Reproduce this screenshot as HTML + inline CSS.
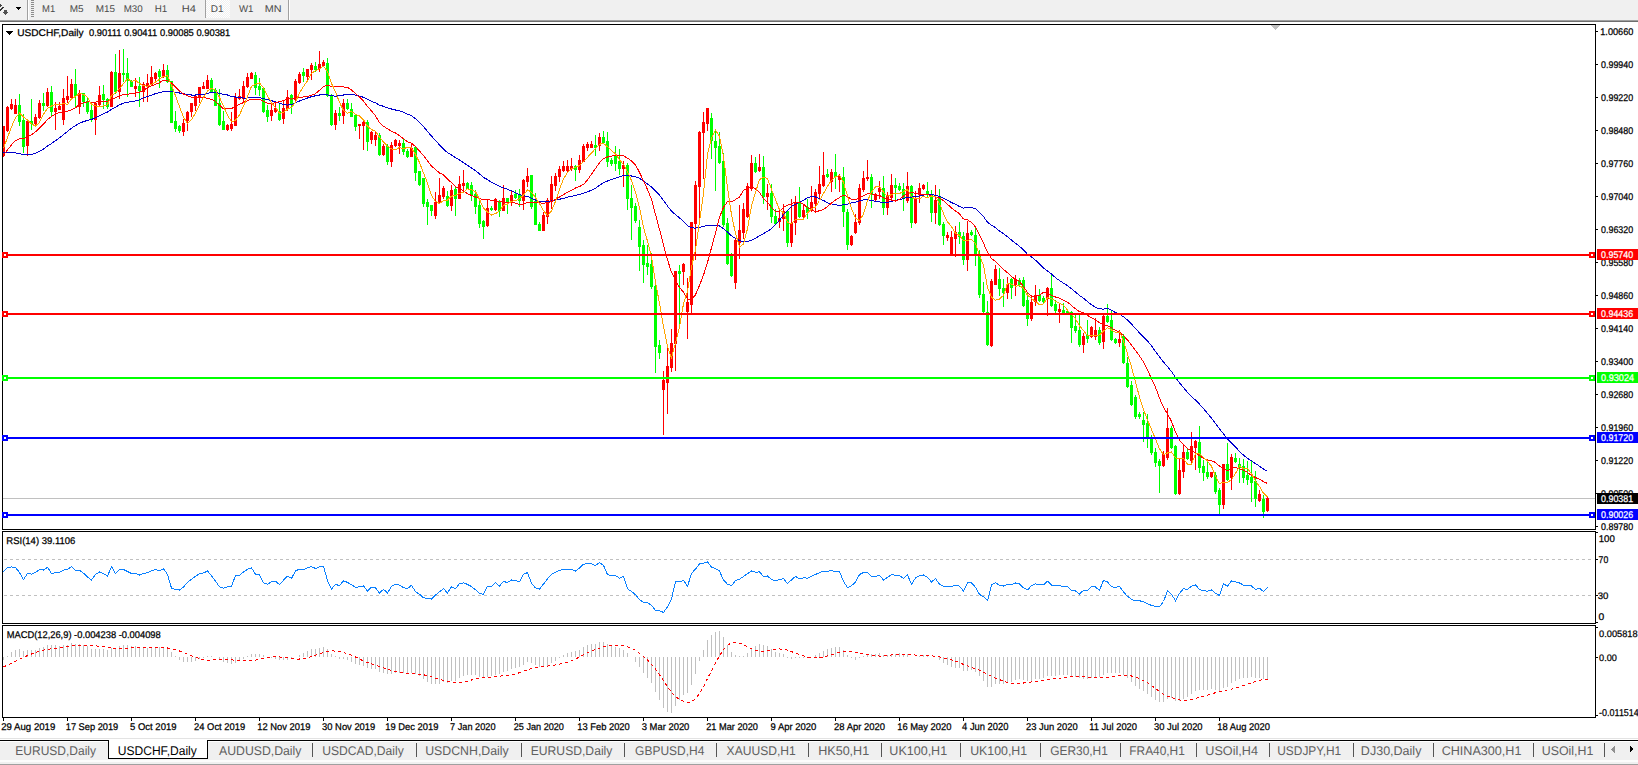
<!DOCTYPE html>
<html><head><meta charset="utf-8"><title>USDCHF,Daily</title>
<style>
html,body{margin:0;padding:0;width:1638px;height:765px;overflow:hidden;background:#fff}
svg{position:absolute;left:0;top:0;display:block}
text{font-family:"Liberation Sans",sans-serif;text-rendering:geometricPrecision}
</style></head><body>
<svg width="1638" height="765" viewBox="0 0 1638 765" shape-rendering="crispEdges">
<rect x="0" y="0" width="1638" height="20" fill="#f0f0f0"/>
<rect x="0" y="20" width="1638" height="1" fill="#a0a0a0"/>
<rect x="0" y="21" width="1638" height="1" fill="#6e6e6e"/>
<path d="M0 4 L2 5 L0 7 Z" fill="#444"/>
<path d="M0 9.5 L3 6.3 L4 7.3 L0 11 Z" fill="#333"/>
<path d="M2 11.5 L4.3 11.5 L4.3 10 L6.7 10 L6.7 11.5 L9 11.5 L5.5 15 Z" fill="#505050"/>
<path d="M15 7 L21 7 L18 10 Z" fill="#000"/>
<rect x="27" y="0" width="1" height="20" fill="#a0a0a0"/>
<rect x="28" y="0" width="1" height="20" fill="#ffffff"/>
<rect x="31" y="0" width="3" height="1" fill="#8c8c8c"/>
<rect x="31" y="2" width="3" height="1" fill="#8c8c8c"/>
<rect x="31" y="4" width="3" height="1" fill="#8c8c8c"/>
<rect x="31" y="6" width="3" height="1" fill="#8c8c8c"/>
<rect x="31" y="8" width="3" height="1" fill="#8c8c8c"/>
<rect x="31" y="10" width="3" height="1" fill="#8c8c8c"/>
<rect x="31" y="12" width="3" height="1" fill="#8c8c8c"/>
<rect x="31" y="14" width="3" height="1" fill="#8c8c8c"/>
<rect x="31" y="16" width="3" height="1" fill="#8c8c8c"/>
<defs><pattern id="dith" width="2" height="2" patternUnits="userSpaceOnUse"><rect width="2" height="2" fill="#f0f0f0"/><rect width="1" height="1" fill="#ffffff"/><rect x="1" y="1" width="1" height="1" fill="#ffffff"/></pattern></defs>
<rect x="206" y="0" width="24" height="18" fill="url(#dith)"/>
<rect x="205" y="0" width="1" height="18" fill="#a0a0a0"/>
<rect x="288" y="0" width="1" height="20" fill="#a0a0a0"/>
<rect x="289" y="0" width="1" height="20" fill="#ffffff"/>
<rect x="3" y="498" width="1592" height="1" fill="#c0c0c0"/>
<rect x="3" y="126" width="1" height="31" fill="#ff0000"/>
<rect x="2" y="126" width="3" height="30" fill="#ff0000"/>
<rect x="7" y="106" width="1" height="26" fill="#ff0000"/>
<rect x="6" y="107" width="3" height="24" fill="#ff0000"/>
<rect x="11" y="99" width="1" height="11" fill="#ff0000"/>
<rect x="10" y="104" width="3" height="5" fill="#ff0000"/>
<rect x="15" y="99" width="1" height="15" fill="#ff0000"/>
<rect x="14" y="105" width="3" height="9" fill="#ff0000"/>
<rect x="19" y="94" width="1" height="32" fill="#00ff00"/>
<rect x="18" y="105" width="3" height="17" fill="#00ff00"/>
<rect x="23" y="114" width="1" height="39" fill="#00ff00"/>
<rect x="22" y="120" width="3" height="27" fill="#00ff00"/>
<rect x="27" y="121" width="1" height="35" fill="#ff0000"/>
<rect x="26" y="121" width="3" height="25" fill="#ff0000"/>
<rect x="31" y="99" width="1" height="31" fill="#00ff00"/>
<rect x="30" y="121" width="3" height="3" fill="#00ff00"/>
<rect x="35" y="114" width="1" height="11" fill="#ff0000"/>
<rect x="34" y="117" width="3" height="7" fill="#ff0000"/>
<rect x="39" y="100" width="1" height="19" fill="#ff0000"/>
<rect x="38" y="103" width="3" height="15" fill="#ff0000"/>
<rect x="43" y="93" width="1" height="18" fill="#00ff00"/>
<rect x="42" y="103" width="3" height="3" fill="#00ff00"/>
<rect x="47" y="88" width="1" height="19" fill="#ff0000"/>
<rect x="46" y="92" width="3" height="14" fill="#ff0000"/>
<rect x="51" y="86" width="1" height="31" fill="#00ff00"/>
<rect x="50" y="92" width="3" height="20" fill="#00ff00"/>
<rect x="55" y="102" width="1" height="28" fill="#ff0000"/>
<rect x="54" y="108" width="3" height="4" fill="#ff0000"/>
<rect x="59" y="102" width="1" height="8" fill="#ff0000"/>
<rect x="58" y="106" width="3" height="4" fill="#ff0000"/>
<rect x="63" y="89" width="1" height="36" fill="#ff0000"/>
<rect x="62" y="98" width="3" height="22" fill="#ff0000"/>
<rect x="67" y="76" width="1" height="27" fill="#ff0000"/>
<rect x="66" y="96" width="3" height="4" fill="#ff0000"/>
<rect x="71" y="79" width="1" height="20" fill="#ff0000"/>
<rect x="70" y="84" width="3" height="14" fill="#ff0000"/>
<rect x="75" y="69" width="1" height="38" fill="#00ff00"/>
<rect x="74" y="84" width="3" height="12" fill="#00ff00"/>
<rect x="79" y="90" width="1" height="24" fill="#ff0000"/>
<rect x="78" y="93" width="3" height="14" fill="#ff0000"/>
<rect x="83" y="93" width="1" height="14" fill="#00ff00"/>
<rect x="82" y="93" width="3" height="9" fill="#00ff00"/>
<rect x="87" y="97" width="1" height="17" fill="#00ff00"/>
<rect x="86" y="101" width="3" height="11" fill="#00ff00"/>
<rect x="91" y="104" width="1" height="18" fill="#00ff00"/>
<rect x="90" y="110" width="3" height="10" fill="#00ff00"/>
<rect x="95" y="103" width="1" height="32" fill="#ff0000"/>
<rect x="94" y="103" width="3" height="17" fill="#ff0000"/>
<rect x="99" y="86" width="1" height="20" fill="#ff0000"/>
<rect x="98" y="95" width="3" height="10" fill="#ff0000"/>
<rect x="103" y="85" width="1" height="24" fill="#00ff00"/>
<rect x="102" y="94" width="3" height="6" fill="#00ff00"/>
<rect x="107" y="98" width="1" height="11" fill="#00ff00"/>
<rect x="106" y="99" width="3" height="8" fill="#00ff00"/>
<rect x="111" y="71" width="1" height="36" fill="#ff0000"/>
<rect x="110" y="72" width="3" height="35" fill="#ff0000"/>
<rect x="115" y="54" width="1" height="40" fill="#00ff00"/>
<rect x="114" y="72" width="3" height="20" fill="#00ff00"/>
<rect x="119" y="50" width="1" height="49" fill="#ff0000"/>
<rect x="118" y="73" width="3" height="19" fill="#ff0000"/>
<rect x="123" y="49" width="1" height="33" fill="#00ff00"/>
<rect x="122" y="73" width="3" height="2" fill="#00ff00"/>
<rect x="127" y="58" width="1" height="39" fill="#00ff00"/>
<rect x="126" y="73" width="3" height="8" fill="#00ff00"/>
<rect x="131" y="80" width="1" height="7" fill="#00ff00"/>
<rect x="130" y="81" width="3" height="6" fill="#00ff00"/>
<rect x="135" y="78" width="1" height="19" fill="#ff0000"/>
<rect x="134" y="86" width="3" height="3" fill="#ff0000"/>
<rect x="139" y="77" width="1" height="30" fill="#00ff00"/>
<rect x="138" y="86" width="3" height="5" fill="#00ff00"/>
<rect x="143" y="82" width="1" height="20" fill="#ff0000"/>
<rect x="142" y="84" width="3" height="8" fill="#ff0000"/>
<rect x="147" y="74" width="1" height="28" fill="#ff0000"/>
<rect x="146" y="83" width="3" height="4" fill="#ff0000"/>
<rect x="151" y="66" width="1" height="20" fill="#ff0000"/>
<rect x="150" y="77" width="3" height="8" fill="#ff0000"/>
<rect x="155" y="72" width="1" height="10" fill="#ff0000"/>
<rect x="154" y="73" width="3" height="6" fill="#ff0000"/>
<rect x="159" y="69" width="1" height="19" fill="#00ff00"/>
<rect x="158" y="71" width="3" height="6" fill="#00ff00"/>
<rect x="163" y="64" width="1" height="14" fill="#ff0000"/>
<rect x="162" y="70" width="3" height="7" fill="#ff0000"/>
<rect x="167" y="65" width="1" height="18" fill="#00ff00"/>
<rect x="166" y="70" width="3" height="12" fill="#00ff00"/>
<rect x="171" y="81" width="1" height="42" fill="#00ff00"/>
<rect x="170" y="81" width="3" height="42" fill="#00ff00"/>
<rect x="175" y="111" width="1" height="21" fill="#00ff00"/>
<rect x="174" y="121" width="3" height="8" fill="#00ff00"/>
<rect x="179" y="125" width="1" height="8" fill="#00ff00"/>
<rect x="178" y="126" width="3" height="5" fill="#00ff00"/>
<rect x="183" y="119" width="1" height="17" fill="#ff0000"/>
<rect x="182" y="123" width="3" height="9" fill="#ff0000"/>
<rect x="187" y="111" width="1" height="20" fill="#ff0000"/>
<rect x="186" y="112" width="3" height="9" fill="#ff0000"/>
<rect x="191" y="103" width="1" height="14" fill="#ff0000"/>
<rect x="190" y="103" width="3" height="9" fill="#ff0000"/>
<rect x="195" y="95" width="1" height="16" fill="#ff0000"/>
<rect x="194" y="96" width="3" height="10" fill="#ff0000"/>
<rect x="199" y="87" width="1" height="16" fill="#ff0000"/>
<rect x="198" y="87" width="3" height="11" fill="#ff0000"/>
<rect x="203" y="82" width="1" height="7" fill="#ff0000"/>
<rect x="202" y="86" width="3" height="3" fill="#ff0000"/>
<rect x="207" y="75" width="1" height="14" fill="#ff0000"/>
<rect x="206" y="80" width="3" height="9" fill="#ff0000"/>
<rect x="211" y="78" width="1" height="14" fill="#00ff00"/>
<rect x="210" y="80" width="3" height="12" fill="#00ff00"/>
<rect x="215" y="88" width="1" height="18" fill="#00ff00"/>
<rect x="214" y="90" width="3" height="16" fill="#00ff00"/>
<rect x="219" y="89" width="1" height="37" fill="#00ff00"/>
<rect x="218" y="103" width="3" height="22" fill="#00ff00"/>
<rect x="223" y="111" width="1" height="19" fill="#00ff00"/>
<rect x="222" y="121" width="3" height="9" fill="#00ff00"/>
<rect x="227" y="124" width="1" height="7" fill="#ff0000"/>
<rect x="226" y="125" width="3" height="5" fill="#ff0000"/>
<rect x="231" y="112" width="1" height="19" fill="#ff0000"/>
<rect x="230" y="124" width="3" height="5" fill="#ff0000"/>
<rect x="235" y="93" width="1" height="33" fill="#ff0000"/>
<rect x="234" y="97" width="3" height="29" fill="#ff0000"/>
<rect x="239" y="89" width="1" height="11" fill="#ff0000"/>
<rect x="238" y="96" width="3" height="3" fill="#ff0000"/>
<rect x="243" y="81" width="1" height="21" fill="#ff0000"/>
<rect x="242" y="86" width="3" height="13" fill="#ff0000"/>
<rect x="247" y="73" width="1" height="15" fill="#ff0000"/>
<rect x="246" y="77" width="3" height="10" fill="#ff0000"/>
<rect x="251" y="72" width="1" height="7" fill="#ff0000"/>
<rect x="250" y="73" width="3" height="6" fill="#ff0000"/>
<rect x="255" y="72" width="1" height="23" fill="#00ff00"/>
<rect x="254" y="75" width="3" height="13" fill="#00ff00"/>
<rect x="259" y="78" width="1" height="18" fill="#00ff00"/>
<rect x="258" y="86" width="3" height="4" fill="#00ff00"/>
<rect x="263" y="87" width="1" height="26" fill="#00ff00"/>
<rect x="262" y="88" width="3" height="24" fill="#00ff00"/>
<rect x="267" y="105" width="1" height="17" fill="#00ff00"/>
<rect x="266" y="110" width="3" height="7" fill="#00ff00"/>
<rect x="271" y="103" width="1" height="18" fill="#ff0000"/>
<rect x="270" y="110" width="3" height="6" fill="#ff0000"/>
<rect x="275" y="103" width="1" height="10" fill="#ff0000"/>
<rect x="274" y="108" width="3" height="4" fill="#ff0000"/>
<rect x="279" y="103" width="1" height="18" fill="#00ff00"/>
<rect x="278" y="111" width="3" height="9" fill="#00ff00"/>
<rect x="283" y="100" width="1" height="24" fill="#ff0000"/>
<rect x="282" y="108" width="3" height="11" fill="#ff0000"/>
<rect x="287" y="90" width="1" height="21" fill="#ff0000"/>
<rect x="286" y="97" width="3" height="12" fill="#ff0000"/>
<rect x="291" y="94" width="1" height="20" fill="#00ff00"/>
<rect x="290" y="95" width="3" height="9" fill="#00ff00"/>
<rect x="295" y="79" width="1" height="22" fill="#ff0000"/>
<rect x="294" y="81" width="3" height="19" fill="#ff0000"/>
<rect x="299" y="72" width="1" height="12" fill="#ff0000"/>
<rect x="298" y="74" width="3" height="9" fill="#ff0000"/>
<rect x="303" y="68" width="1" height="14" fill="#00ff00"/>
<rect x="302" y="72" width="3" height="4" fill="#00ff00"/>
<rect x="307" y="69" width="1" height="12" fill="#ff0000"/>
<rect x="306" y="69" width="3" height="8" fill="#ff0000"/>
<rect x="311" y="63" width="1" height="17" fill="#ff0000"/>
<rect x="310" y="65" width="3" height="5" fill="#ff0000"/>
<rect x="315" y="62" width="1" height="10" fill="#00ff00"/>
<rect x="314" y="66" width="3" height="4" fill="#00ff00"/>
<rect x="319" y="51" width="1" height="21" fill="#ff0000"/>
<rect x="318" y="64" width="3" height="5" fill="#ff0000"/>
<rect x="323" y="60" width="1" height="7" fill="#ff0000"/>
<rect x="322" y="62" width="3" height="4" fill="#ff0000"/>
<rect x="327" y="58" width="1" height="39" fill="#00ff00"/>
<rect x="326" y="63" width="3" height="33" fill="#00ff00"/>
<rect x="331" y="94" width="1" height="32" fill="#00ff00"/>
<rect x="330" y="95" width="3" height="30" fill="#00ff00"/>
<rect x="335" y="110" width="1" height="20" fill="#ff0000"/>
<rect x="334" y="113" width="3" height="12" fill="#ff0000"/>
<rect x="339" y="107" width="1" height="14" fill="#00ff00"/>
<rect x="338" y="113" width="3" height="3" fill="#00ff00"/>
<rect x="343" y="99" width="1" height="25" fill="#ff0000"/>
<rect x="342" y="103" width="3" height="13" fill="#ff0000"/>
<rect x="347" y="99" width="1" height="11" fill="#00ff00"/>
<rect x="346" y="103" width="3" height="6" fill="#00ff00"/>
<rect x="351" y="103" width="1" height="14" fill="#00ff00"/>
<rect x="350" y="109" width="3" height="8" fill="#00ff00"/>
<rect x="355" y="114" width="1" height="17" fill="#00ff00"/>
<rect x="354" y="115" width="3" height="12" fill="#00ff00"/>
<rect x="359" y="124" width="1" height="15" fill="#ff0000"/>
<rect x="358" y="124" width="3" height="2" fill="#ff0000"/>
<rect x="363" y="120" width="1" height="30" fill="#ff0000"/>
<rect x="362" y="122" width="3" height="4" fill="#ff0000"/>
<rect x="367" y="120" width="1" height="31" fill="#00ff00"/>
<rect x="366" y="122" width="3" height="20" fill="#00ff00"/>
<rect x="371" y="131" width="1" height="13" fill="#ff0000"/>
<rect x="370" y="132" width="3" height="8" fill="#ff0000"/>
<rect x="375" y="132" width="1" height="14" fill="#ff0000"/>
<rect x="374" y="135" width="3" height="5" fill="#ff0000"/>
<rect x="379" y="133" width="1" height="23" fill="#00ff00"/>
<rect x="378" y="135" width="3" height="20" fill="#00ff00"/>
<rect x="383" y="144" width="1" height="12" fill="#ff0000"/>
<rect x="382" y="146" width="3" height="9" fill="#ff0000"/>
<rect x="387" y="144" width="1" height="21" fill="#00ff00"/>
<rect x="386" y="146" width="3" height="16" fill="#00ff00"/>
<rect x="391" y="142" width="1" height="25" fill="#ff0000"/>
<rect x="390" y="145" width="3" height="17" fill="#ff0000"/>
<rect x="395" y="139" width="1" height="8" fill="#ff0000"/>
<rect x="394" y="140" width="3" height="6" fill="#ff0000"/>
<rect x="399" y="140" width="1" height="14" fill="#ff0000"/>
<rect x="398" y="143" width="3" height="3" fill="#ff0000"/>
<rect x="403" y="139" width="1" height="16" fill="#00ff00"/>
<rect x="402" y="143" width="3" height="9" fill="#00ff00"/>
<rect x="407" y="149" width="1" height="9" fill="#00ff00"/>
<rect x="406" y="151" width="3" height="6" fill="#00ff00"/>
<rect x="411" y="144" width="1" height="13" fill="#ff0000"/>
<rect x="410" y="148" width="3" height="9" fill="#ff0000"/>
<rect x="415" y="146" width="1" height="35" fill="#00ff00"/>
<rect x="414" y="147" width="3" height="26" fill="#00ff00"/>
<rect x="419" y="171" width="1" height="15" fill="#00ff00"/>
<rect x="418" y="171" width="3" height="14" fill="#00ff00"/>
<rect x="423" y="178" width="1" height="29" fill="#00ff00"/>
<rect x="422" y="178" width="3" height="26" fill="#00ff00"/>
<rect x="427" y="199" width="1" height="26" fill="#00ff00"/>
<rect x="426" y="202" width="3" height="5" fill="#00ff00"/>
<rect x="431" y="205" width="1" height="11" fill="#00ff00"/>
<rect x="430" y="205" width="3" height="6" fill="#00ff00"/>
<rect x="435" y="192" width="1" height="27" fill="#ff0000"/>
<rect x="434" y="202" width="3" height="14" fill="#ff0000"/>
<rect x="439" y="178" width="1" height="26" fill="#ff0000"/>
<rect x="438" y="195" width="3" height="8" fill="#ff0000"/>
<rect x="443" y="186" width="1" height="13" fill="#ff0000"/>
<rect x="442" y="188" width="3" height="9" fill="#ff0000"/>
<rect x="447" y="191" width="1" height="16" fill="#00ff00"/>
<rect x="446" y="196" width="3" height="10" fill="#00ff00"/>
<rect x="451" y="185" width="1" height="26" fill="#ff0000"/>
<rect x="450" y="190" width="3" height="16" fill="#ff0000"/>
<rect x="455" y="186" width="1" height="30" fill="#00ff00"/>
<rect x="454" y="189" width="3" height="10" fill="#00ff00"/>
<rect x="459" y="176" width="1" height="23" fill="#ff0000"/>
<rect x="458" y="184" width="3" height="15" fill="#ff0000"/>
<rect x="463" y="170" width="1" height="22" fill="#ff0000"/>
<rect x="462" y="183" width="3" height="3" fill="#ff0000"/>
<rect x="467" y="182" width="1" height="7" fill="#00ff00"/>
<rect x="466" y="183" width="3" height="6" fill="#00ff00"/>
<rect x="471" y="182" width="1" height="19" fill="#00ff00"/>
<rect x="470" y="185" width="3" height="11" fill="#00ff00"/>
<rect x="475" y="190" width="1" height="24" fill="#00ff00"/>
<rect x="474" y="194" width="3" height="13" fill="#00ff00"/>
<rect x="479" y="200" width="1" height="28" fill="#00ff00"/>
<rect x="478" y="205" width="3" height="19" fill="#00ff00"/>
<rect x="483" y="220" width="1" height="19" fill="#00ff00"/>
<rect x="482" y="221" width="3" height="6" fill="#00ff00"/>
<rect x="487" y="200" width="1" height="27" fill="#ff0000"/>
<rect x="486" y="208" width="3" height="18" fill="#ff0000"/>
<rect x="491" y="206" width="1" height="5" fill="#00ff00"/>
<rect x="490" y="208" width="3" height="2" fill="#00ff00"/>
<rect x="495" y="198" width="1" height="13" fill="#ff0000"/>
<rect x="494" y="199" width="3" height="11" fill="#ff0000"/>
<rect x="499" y="200" width="1" height="17" fill="#00ff00"/>
<rect x="498" y="202" width="3" height="9" fill="#00ff00"/>
<rect x="503" y="185" width="1" height="26" fill="#ff0000"/>
<rect x="502" y="198" width="3" height="13" fill="#ff0000"/>
<rect x="507" y="198" width="1" height="16" fill="#00ff00"/>
<rect x="506" y="198" width="3" height="5" fill="#00ff00"/>
<rect x="511" y="190" width="1" height="16" fill="#ff0000"/>
<rect x="510" y="195" width="3" height="7" fill="#ff0000"/>
<rect x="515" y="190" width="1" height="9" fill="#00ff00"/>
<rect x="514" y="194" width="3" height="4" fill="#00ff00"/>
<rect x="519" y="189" width="1" height="18" fill="#00ff00"/>
<rect x="518" y="194" width="3" height="7" fill="#00ff00"/>
<rect x="523" y="179" width="1" height="31" fill="#ff0000"/>
<rect x="522" y="180" width="3" height="21" fill="#ff0000"/>
<rect x="527" y="168" width="1" height="19" fill="#ff0000"/>
<rect x="526" y="176" width="3" height="6" fill="#ff0000"/>
<rect x="531" y="175" width="1" height="34" fill="#00ff00"/>
<rect x="530" y="175" width="3" height="32" fill="#00ff00"/>
<rect x="535" y="193" width="1" height="32" fill="#00ff00"/>
<rect x="534" y="201" width="3" height="24" fill="#00ff00"/>
<rect x="539" y="222" width="1" height="9" fill="#00ff00"/>
<rect x="538" y="224" width="3" height="7" fill="#00ff00"/>
<rect x="543" y="212" width="1" height="19" fill="#ff0000"/>
<rect x="542" y="215" width="3" height="16" fill="#ff0000"/>
<rect x="547" y="198" width="1" height="26" fill="#ff0000"/>
<rect x="546" y="200" width="3" height="17" fill="#ff0000"/>
<rect x="551" y="176" width="1" height="33" fill="#ff0000"/>
<rect x="550" y="184" width="3" height="17" fill="#ff0000"/>
<rect x="555" y="173" width="1" height="18" fill="#ff0000"/>
<rect x="554" y="176" width="3" height="10" fill="#ff0000"/>
<rect x="559" y="166" width="1" height="16" fill="#ff0000"/>
<rect x="558" y="169" width="3" height="8" fill="#ff0000"/>
<rect x="563" y="161" width="1" height="11" fill="#ff0000"/>
<rect x="562" y="166" width="3" height="5" fill="#ff0000"/>
<rect x="567" y="160" width="1" height="12" fill="#ff0000"/>
<rect x="566" y="166" width="3" height="5" fill="#ff0000"/>
<rect x="571" y="158" width="1" height="13" fill="#ff0000"/>
<rect x="570" y="166" width="3" height="3" fill="#ff0000"/>
<rect x="575" y="165" width="1" height="16" fill="#00ff00"/>
<rect x="574" y="166" width="3" height="4" fill="#00ff00"/>
<rect x="579" y="155" width="1" height="18" fill="#ff0000"/>
<rect x="578" y="160" width="3" height="10" fill="#ff0000"/>
<rect x="583" y="144" width="1" height="18" fill="#ff0000"/>
<rect x="582" y="146" width="3" height="16" fill="#ff0000"/>
<rect x="587" y="142" width="1" height="9" fill="#ff0000"/>
<rect x="586" y="144" width="3" height="4" fill="#ff0000"/>
<rect x="591" y="141" width="1" height="7" fill="#ff0000"/>
<rect x="590" y="144" width="3" height="4" fill="#ff0000"/>
<rect x="595" y="135" width="1" height="21" fill="#00ff00"/>
<rect x="594" y="145" width="3" height="3" fill="#00ff00"/>
<rect x="599" y="133" width="1" height="18" fill="#ff0000"/>
<rect x="598" y="137" width="3" height="9" fill="#ff0000"/>
<rect x="603" y="131" width="1" height="13" fill="#00ff00"/>
<rect x="602" y="137" width="3" height="6" fill="#00ff00"/>
<rect x="607" y="132" width="1" height="35" fill="#00ff00"/>
<rect x="606" y="141" width="3" height="21" fill="#00ff00"/>
<rect x="611" y="158" width="1" height="8" fill="#00ff00"/>
<rect x="610" y="160" width="3" height="4" fill="#00ff00"/>
<rect x="615" y="146" width="1" height="25" fill="#00ff00"/>
<rect x="614" y="155" width="3" height="9" fill="#00ff00"/>
<rect x="619" y="149" width="1" height="26" fill="#00ff00"/>
<rect x="618" y="161" width="3" height="8" fill="#00ff00"/>
<rect x="623" y="161" width="1" height="26" fill="#ff0000"/>
<rect x="622" y="165" width="3" height="4" fill="#ff0000"/>
<rect x="627" y="163" width="1" height="47" fill="#00ff00"/>
<rect x="626" y="165" width="3" height="34" fill="#00ff00"/>
<rect x="631" y="185" width="1" height="55" fill="#00ff00"/>
<rect x="630" y="198" width="3" height="10" fill="#00ff00"/>
<rect x="635" y="203" width="1" height="20" fill="#00ff00"/>
<rect x="634" y="206" width="3" height="15" fill="#00ff00"/>
<rect x="639" y="220" width="1" height="51" fill="#00ff00"/>
<rect x="638" y="227" width="3" height="20" fill="#00ff00"/>
<rect x="643" y="240" width="1" height="43" fill="#00ff00"/>
<rect x="642" y="245" width="3" height="20" fill="#00ff00"/>
<rect x="647" y="245" width="1" height="30" fill="#00ff00"/>
<rect x="646" y="263" width="3" height="4" fill="#00ff00"/>
<rect x="651" y="253" width="1" height="36" fill="#00ff00"/>
<rect x="650" y="264" width="3" height="23" fill="#00ff00"/>
<rect x="655" y="284" width="1" height="89" fill="#00ff00"/>
<rect x="654" y="286" width="3" height="61" fill="#00ff00"/>
<rect x="659" y="340" width="1" height="19" fill="#00ff00"/>
<rect x="658" y="345" width="3" height="8" fill="#00ff00"/>
<rect x="663" y="371" width="1" height="64" fill="#ff0000"/>
<rect x="662" y="380" width="3" height="10" fill="#ff0000"/>
<rect x="667" y="348" width="1" height="66" fill="#ff0000"/>
<rect x="666" y="366" width="3" height="17" fill="#ff0000"/>
<rect x="671" y="329" width="1" height="43" fill="#ff0000"/>
<rect x="670" y="343" width="3" height="25" fill="#ff0000"/>
<rect x="675" y="271" width="1" height="100" fill="#ff0000"/>
<rect x="674" y="271" width="3" height="73" fill="#ff0000"/>
<rect x="679" y="265" width="1" height="59" fill="#00ff00"/>
<rect x="678" y="271" width="3" height="3" fill="#00ff00"/>
<rect x="683" y="263" width="1" height="22" fill="#ff0000"/>
<rect x="682" y="264" width="3" height="8" fill="#ff0000"/>
<rect x="687" y="278" width="1" height="61" fill="#ff0000"/>
<rect x="686" y="302" width="3" height="10" fill="#ff0000"/>
<rect x="691" y="222" width="1" height="92" fill="#ff0000"/>
<rect x="690" y="222" width="3" height="83" fill="#ff0000"/>
<rect x="695" y="181" width="1" height="79" fill="#ff0000"/>
<rect x="694" y="185" width="3" height="39" fill="#ff0000"/>
<rect x="699" y="131" width="1" height="88" fill="#ff0000"/>
<rect x="698" y="132" width="3" height="55" fill="#ff0000"/>
<rect x="703" y="112" width="1" height="67" fill="#ff0000"/>
<rect x="702" y="122" width="3" height="11" fill="#ff0000"/>
<rect x="707" y="108" width="1" height="23" fill="#ff0000"/>
<rect x="706" y="108" width="3" height="16" fill="#ff0000"/>
<rect x="711" y="113" width="1" height="46" fill="#00ff00"/>
<rect x="710" y="118" width="3" height="23" fill="#00ff00"/>
<rect x="715" y="131" width="1" height="60" fill="#00ff00"/>
<rect x="714" y="141" width="3" height="7" fill="#00ff00"/>
<rect x="719" y="132" width="1" height="32" fill="#00ff00"/>
<rect x="718" y="146" width="3" height="17" fill="#00ff00"/>
<rect x="723" y="153" width="1" height="74" fill="#00ff00"/>
<rect x="722" y="161" width="3" height="64" fill="#00ff00"/>
<rect x="727" y="218" width="1" height="47" fill="#00ff00"/>
<rect x="726" y="223" width="3" height="41" fill="#00ff00"/>
<rect x="731" y="253" width="1" height="24" fill="#00ff00"/>
<rect x="730" y="256" width="3" height="20" fill="#00ff00"/>
<rect x="735" y="238" width="1" height="51" fill="#ff0000"/>
<rect x="734" y="240" width="3" height="43" fill="#ff0000"/>
<rect x="739" y="205" width="1" height="54" fill="#ff0000"/>
<rect x="738" y="230" width="3" height="13" fill="#ff0000"/>
<rect x="743" y="203" width="1" height="36" fill="#ff0000"/>
<rect x="742" y="209" width="3" height="24" fill="#ff0000"/>
<rect x="747" y="183" width="1" height="35" fill="#ff0000"/>
<rect x="746" y="186" width="3" height="31" fill="#ff0000"/>
<rect x="751" y="155" width="1" height="36" fill="#ff0000"/>
<rect x="750" y="163" width="3" height="26" fill="#ff0000"/>
<rect x="755" y="157" width="1" height="16" fill="#00ff00"/>
<rect x="754" y="163" width="3" height="9" fill="#00ff00"/>
<rect x="759" y="154" width="1" height="18" fill="#ff0000"/>
<rect x="758" y="167" width="3" height="4" fill="#ff0000"/>
<rect x="763" y="156" width="1" height="48" fill="#00ff00"/>
<rect x="762" y="167" width="3" height="30" fill="#00ff00"/>
<rect x="767" y="184" width="1" height="26" fill="#ff0000"/>
<rect x="766" y="193" width="3" height="4" fill="#ff0000"/>
<rect x="771" y="184" width="1" height="39" fill="#00ff00"/>
<rect x="770" y="193" width="3" height="24" fill="#00ff00"/>
<rect x="775" y="209" width="1" height="16" fill="#00ff00"/>
<rect x="774" y="216" width="3" height="8" fill="#00ff00"/>
<rect x="779" y="212" width="1" height="16" fill="#ff0000"/>
<rect x="778" y="218" width="3" height="4" fill="#ff0000"/>
<rect x="783" y="204" width="1" height="27" fill="#ff0000"/>
<rect x="782" y="211" width="3" height="8" fill="#ff0000"/>
<rect x="787" y="210" width="1" height="37" fill="#00ff00"/>
<rect x="786" y="211" width="3" height="32" fill="#00ff00"/>
<rect x="791" y="199" width="1" height="48" fill="#ff0000"/>
<rect x="790" y="223" width="3" height="20" fill="#ff0000"/>
<rect x="795" y="196" width="1" height="39" fill="#ff0000"/>
<rect x="794" y="202" width="3" height="21" fill="#ff0000"/>
<rect x="799" y="187" width="1" height="31" fill="#00ff00"/>
<rect x="798" y="202" width="3" height="15" fill="#00ff00"/>
<rect x="803" y="204" width="1" height="14" fill="#ff0000"/>
<rect x="802" y="210" width="3" height="7" fill="#ff0000"/>
<rect x="807" y="199" width="1" height="20" fill="#00ff00"/>
<rect x="806" y="207" width="3" height="6" fill="#00ff00"/>
<rect x="811" y="186" width="1" height="26" fill="#ff0000"/>
<rect x="810" y="202" width="3" height="8" fill="#ff0000"/>
<rect x="815" y="189" width="1" height="24" fill="#ff0000"/>
<rect x="814" y="192" width="3" height="12" fill="#ff0000"/>
<rect x="819" y="166" width="1" height="33" fill="#ff0000"/>
<rect x="818" y="184" width="3" height="10" fill="#ff0000"/>
<rect x="823" y="152" width="1" height="35" fill="#ff0000"/>
<rect x="822" y="175" width="3" height="11" fill="#ff0000"/>
<rect x="827" y="169" width="1" height="9" fill="#00ff00"/>
<rect x="826" y="174" width="3" height="3" fill="#00ff00"/>
<rect x="831" y="169" width="1" height="23" fill="#ff0000"/>
<rect x="830" y="172" width="3" height="10" fill="#ff0000"/>
<rect x="835" y="154" width="1" height="35" fill="#00ff00"/>
<rect x="834" y="172" width="3" height="5" fill="#00ff00"/>
<rect x="839" y="174" width="1" height="18" fill="#ff0000"/>
<rect x="838" y="176" width="3" height="4" fill="#ff0000"/>
<rect x="843" y="167" width="1" height="60" fill="#00ff00"/>
<rect x="842" y="177" width="3" height="35" fill="#00ff00"/>
<rect x="847" y="209" width="1" height="41" fill="#00ff00"/>
<rect x="846" y="212" width="3" height="33" fill="#00ff00"/>
<rect x="851" y="235" width="1" height="11" fill="#ff0000"/>
<rect x="850" y="236" width="3" height="9" fill="#ff0000"/>
<rect x="855" y="214" width="1" height="20" fill="#ff0000"/>
<rect x="854" y="222" width="3" height="11" fill="#ff0000"/>
<rect x="859" y="184" width="1" height="41" fill="#ff0000"/>
<rect x="858" y="188" width="3" height="35" fill="#ff0000"/>
<rect x="863" y="171" width="1" height="21" fill="#ff0000"/>
<rect x="862" y="178" width="3" height="12" fill="#ff0000"/>
<rect x="867" y="160" width="1" height="21" fill="#ff0000"/>
<rect x="866" y="177" width="3" height="2" fill="#ff0000"/>
<rect x="871" y="174" width="1" height="34" fill="#00ff00"/>
<rect x="870" y="177" width="3" height="17" fill="#00ff00"/>
<rect x="875" y="193" width="1" height="8" fill="#ff0000"/>
<rect x="874" y="194" width="3" height="6" fill="#ff0000"/>
<rect x="879" y="181" width="1" height="18" fill="#ff0000"/>
<rect x="878" y="188" width="3" height="4" fill="#ff0000"/>
<rect x="883" y="176" width="1" height="39" fill="#00ff00"/>
<rect x="882" y="188" width="3" height="20" fill="#00ff00"/>
<rect x="887" y="192" width="1" height="23" fill="#ff0000"/>
<rect x="886" y="196" width="3" height="12" fill="#ff0000"/>
<rect x="891" y="174" width="1" height="27" fill="#ff0000"/>
<rect x="890" y="185" width="3" height="13" fill="#ff0000"/>
<rect x="895" y="178" width="1" height="22" fill="#00ff00"/>
<rect x="894" y="185" width="3" height="3" fill="#00ff00"/>
<rect x="899" y="183" width="1" height="8" fill="#00ff00"/>
<rect x="898" y="186" width="3" height="4" fill="#00ff00"/>
<rect x="903" y="183" width="1" height="28" fill="#00ff00"/>
<rect x="902" y="189" width="3" height="10" fill="#00ff00"/>
<rect x="907" y="172" width="1" height="31" fill="#ff0000"/>
<rect x="906" y="186" width="3" height="15" fill="#ff0000"/>
<rect x="911" y="185" width="1" height="43" fill="#00ff00"/>
<rect x="910" y="186" width="3" height="37" fill="#00ff00"/>
<rect x="915" y="191" width="1" height="33" fill="#ff0000"/>
<rect x="914" y="198" width="3" height="25" fill="#ff0000"/>
<rect x="919" y="183" width="1" height="20" fill="#ff0000"/>
<rect x="918" y="188" width="3" height="7" fill="#ff0000"/>
<rect x="923" y="184" width="1" height="6" fill="#ff0000"/>
<rect x="922" y="185" width="3" height="4" fill="#ff0000"/>
<rect x="927" y="182" width="1" height="15" fill="#00ff00"/>
<rect x="926" y="191" width="3" height="4" fill="#00ff00"/>
<rect x="931" y="190" width="1" height="32" fill="#00ff00"/>
<rect x="930" y="194" width="3" height="19" fill="#00ff00"/>
<rect x="935" y="185" width="1" height="39" fill="#ff0000"/>
<rect x="934" y="200" width="3" height="13" fill="#ff0000"/>
<rect x="939" y="189" width="1" height="37" fill="#00ff00"/>
<rect x="938" y="197" width="3" height="28" fill="#00ff00"/>
<rect x="943" y="222" width="1" height="23" fill="#00ff00"/>
<rect x="942" y="224" width="3" height="12" fill="#00ff00"/>
<rect x="947" y="232" width="1" height="9" fill="#ff0000"/>
<rect x="946" y="235" width="3" height="3" fill="#ff0000"/>
<rect x="951" y="231" width="1" height="25" fill="#ff0000"/>
<rect x="950" y="237" width="3" height="19" fill="#ff0000"/>
<rect x="955" y="226" width="1" height="31" fill="#ff0000"/>
<rect x="954" y="232" width="3" height="7" fill="#ff0000"/>
<rect x="959" y="222" width="1" height="22" fill="#00ff00"/>
<rect x="958" y="232" width="3" height="5" fill="#00ff00"/>
<rect x="963" y="232" width="1" height="33" fill="#00ff00"/>
<rect x="962" y="236" width="3" height="24" fill="#00ff00"/>
<rect x="967" y="221" width="1" height="50" fill="#ff0000"/>
<rect x="966" y="233" width="3" height="27" fill="#ff0000"/>
<rect x="971" y="230" width="1" height="6" fill="#00ff00"/>
<rect x="970" y="232" width="3" height="3" fill="#00ff00"/>
<rect x="975" y="226" width="1" height="40" fill="#00ff00"/>
<rect x="974" y="235" width="3" height="19" fill="#00ff00"/>
<rect x="979" y="250" width="1" height="48" fill="#00ff00"/>
<rect x="978" y="256" width="3" height="39" fill="#00ff00"/>
<rect x="983" y="282" width="1" height="32" fill="#00ff00"/>
<rect x="982" y="294" width="3" height="18" fill="#00ff00"/>
<rect x="987" y="301" width="1" height="45" fill="#00ff00"/>
<rect x="986" y="312" width="3" height="33" fill="#00ff00"/>
<rect x="991" y="279" width="1" height="68" fill="#ff0000"/>
<rect x="990" y="281" width="3" height="65" fill="#ff0000"/>
<rect x="995" y="265" width="1" height="20" fill="#ff0000"/>
<rect x="994" y="269" width="3" height="16" fill="#ff0000"/>
<rect x="999" y="268" width="1" height="28" fill="#00ff00"/>
<rect x="998" y="279" width="3" height="10" fill="#00ff00"/>
<rect x="1003" y="279" width="1" height="28" fill="#00ff00"/>
<rect x="1002" y="288" width="3" height="5" fill="#00ff00"/>
<rect x="1007" y="277" width="1" height="22" fill="#ff0000"/>
<rect x="1006" y="284" width="3" height="9" fill="#ff0000"/>
<rect x="1011" y="278" width="1" height="21" fill="#00ff00"/>
<rect x="1010" y="279" width="3" height="9" fill="#00ff00"/>
<rect x="1015" y="275" width="1" height="21" fill="#ff0000"/>
<rect x="1014" y="279" width="3" height="6" fill="#ff0000"/>
<rect x="1019" y="278" width="1" height="9" fill="#00ff00"/>
<rect x="1018" y="280" width="3" height="5" fill="#00ff00"/>
<rect x="1023" y="277" width="1" height="30" fill="#00ff00"/>
<rect x="1022" y="280" width="3" height="26" fill="#00ff00"/>
<rect x="1027" y="293" width="1" height="33" fill="#00ff00"/>
<rect x="1026" y="300" width="3" height="19" fill="#00ff00"/>
<rect x="1031" y="297" width="1" height="24" fill="#ff0000"/>
<rect x="1030" y="302" width="3" height="17" fill="#ff0000"/>
<rect x="1035" y="285" width="1" height="21" fill="#ff0000"/>
<rect x="1034" y="295" width="3" height="7" fill="#ff0000"/>
<rect x="1039" y="289" width="1" height="13" fill="#00ff00"/>
<rect x="1038" y="295" width="3" height="6" fill="#00ff00"/>
<rect x="1043" y="296" width="1" height="7" fill="#00ff00"/>
<rect x="1042" y="298" width="3" height="4" fill="#00ff00"/>
<rect x="1047" y="287" width="1" height="29" fill="#ff0000"/>
<rect x="1046" y="288" width="3" height="11" fill="#ff0000"/>
<rect x="1051" y="274" width="1" height="33" fill="#00ff00"/>
<rect x="1050" y="288" width="3" height="18" fill="#00ff00"/>
<rect x="1055" y="300" width="1" height="13" fill="#00ff00"/>
<rect x="1054" y="304" width="3" height="7" fill="#00ff00"/>
<rect x="1059" y="304" width="1" height="19" fill="#ff0000"/>
<rect x="1058" y="309" width="3" height="3" fill="#ff0000"/>
<rect x="1063" y="303" width="1" height="11" fill="#00ff00"/>
<rect x="1062" y="310" width="3" height="3" fill="#00ff00"/>
<rect x="1067" y="309" width="1" height="6" fill="#00ff00"/>
<rect x="1066" y="311" width="3" height="3" fill="#00ff00"/>
<rect x="1071" y="311" width="1" height="32" fill="#00ff00"/>
<rect x="1070" y="312" width="3" height="16" fill="#00ff00"/>
<rect x="1075" y="315" width="1" height="18" fill="#00ff00"/>
<rect x="1074" y="326" width="3" height="5" fill="#00ff00"/>
<rect x="1079" y="315" width="1" height="32" fill="#00ff00"/>
<rect x="1078" y="330" width="3" height="15" fill="#00ff00"/>
<rect x="1083" y="333" width="1" height="20" fill="#ff0000"/>
<rect x="1082" y="336" width="3" height="9" fill="#ff0000"/>
<rect x="1087" y="320" width="1" height="23" fill="#00ff00"/>
<rect x="1086" y="335" width="3" height="4" fill="#00ff00"/>
<rect x="1091" y="326" width="1" height="12" fill="#ff0000"/>
<rect x="1090" y="327" width="3" height="10" fill="#ff0000"/>
<rect x="1095" y="318" width="1" height="22" fill="#ff0000"/>
<rect x="1094" y="330" width="3" height="7" fill="#ff0000"/>
<rect x="1099" y="327" width="1" height="18" fill="#00ff00"/>
<rect x="1098" y="330" width="3" height="13" fill="#00ff00"/>
<rect x="1103" y="315" width="1" height="34" fill="#ff0000"/>
<rect x="1102" y="316" width="3" height="26" fill="#ff0000"/>
<rect x="1107" y="304" width="1" height="19" fill="#00ff00"/>
<rect x="1106" y="316" width="3" height="6" fill="#00ff00"/>
<rect x="1111" y="310" width="1" height="31" fill="#00ff00"/>
<rect x="1110" y="320" width="3" height="20" fill="#00ff00"/>
<rect x="1115" y="338" width="1" height="6" fill="#00ff00"/>
<rect x="1114" y="339" width="3" height="4" fill="#00ff00"/>
<rect x="1119" y="330" width="1" height="17" fill="#ff0000"/>
<rect x="1118" y="339" width="3" height="4" fill="#ff0000"/>
<rect x="1123" y="334" width="1" height="30" fill="#00ff00"/>
<rect x="1122" y="336" width="3" height="27" fill="#00ff00"/>
<rect x="1127" y="357" width="1" height="31" fill="#00ff00"/>
<rect x="1126" y="363" width="3" height="24" fill="#00ff00"/>
<rect x="1131" y="381" width="1" height="25" fill="#00ff00"/>
<rect x="1130" y="385" width="3" height="20" fill="#00ff00"/>
<rect x="1135" y="395" width="1" height="24" fill="#00ff00"/>
<rect x="1134" y="397" width="3" height="20" fill="#00ff00"/>
<rect x="1139" y="412" width="1" height="7" fill="#00ff00"/>
<rect x="1138" y="414" width="3" height="3" fill="#00ff00"/>
<rect x="1143" y="412" width="1" height="30" fill="#00ff00"/>
<rect x="1142" y="420" width="3" height="5" fill="#00ff00"/>
<rect x="1147" y="414" width="1" height="34" fill="#00ff00"/>
<rect x="1146" y="423" width="3" height="16" fill="#00ff00"/>
<rect x="1151" y="435" width="1" height="20" fill="#00ff00"/>
<rect x="1150" y="438" width="3" height="15" fill="#00ff00"/>
<rect x="1155" y="448" width="1" height="19" fill="#00ff00"/>
<rect x="1154" y="452" width="3" height="11" fill="#00ff00"/>
<rect x="1159" y="459" width="1" height="34" fill="#00ff00"/>
<rect x="1158" y="461" width="3" height="5" fill="#00ff00"/>
<rect x="1163" y="451" width="1" height="16" fill="#ff0000"/>
<rect x="1162" y="454" width="3" height="12" fill="#ff0000"/>
<rect x="1167" y="408" width="1" height="52" fill="#ff0000"/>
<rect x="1166" y="428" width="3" height="30" fill="#ff0000"/>
<rect x="1171" y="426" width="1" height="23" fill="#00ff00"/>
<rect x="1170" y="428" width="3" height="20" fill="#00ff00"/>
<rect x="1175" y="445" width="1" height="50" fill="#00ff00"/>
<rect x="1174" y="446" width="3" height="48" fill="#00ff00"/>
<rect x="1179" y="459" width="1" height="36" fill="#ff0000"/>
<rect x="1178" y="470" width="3" height="24" fill="#ff0000"/>
<rect x="1183" y="446" width="1" height="32" fill="#ff0000"/>
<rect x="1182" y="452" width="3" height="20" fill="#ff0000"/>
<rect x="1187" y="449" width="1" height="11" fill="#00ff00"/>
<rect x="1186" y="452" width="3" height="7" fill="#00ff00"/>
<rect x="1191" y="432" width="1" height="31" fill="#ff0000"/>
<rect x="1190" y="446" width="3" height="15" fill="#ff0000"/>
<rect x="1195" y="440" width="1" height="30" fill="#ff0000"/>
<rect x="1194" y="441" width="3" height="7" fill="#ff0000"/>
<rect x="1199" y="426" width="1" height="47" fill="#00ff00"/>
<rect x="1198" y="442" width="3" height="26" fill="#00ff00"/>
<rect x="1203" y="460" width="1" height="21" fill="#00ff00"/>
<rect x="1202" y="466" width="3" height="7" fill="#00ff00"/>
<rect x="1207" y="460" width="1" height="19" fill="#00ff00"/>
<rect x="1206" y="472" width="3" height="5" fill="#00ff00"/>
<rect x="1211" y="472" width="1" height="6" fill="#ff0000"/>
<rect x="1210" y="472" width="3" height="5" fill="#ff0000"/>
<rect x="1215" y="472" width="1" height="22" fill="#00ff00"/>
<rect x="1214" y="475" width="3" height="17" fill="#00ff00"/>
<rect x="1219" y="488" width="1" height="26" fill="#00ff00"/>
<rect x="1218" y="490" width="3" height="15" fill="#00ff00"/>
<rect x="1223" y="464" width="1" height="45" fill="#ff0000"/>
<rect x="1222" y="464" width="3" height="41" fill="#ff0000"/>
<rect x="1227" y="443" width="1" height="38" fill="#00ff00"/>
<rect x="1226" y="464" width="3" height="16" fill="#00ff00"/>
<rect x="1231" y="454" width="1" height="36" fill="#ff0000"/>
<rect x="1230" y="457" width="3" height="21" fill="#ff0000"/>
<rect x="1235" y="453" width="1" height="10" fill="#00ff00"/>
<rect x="1234" y="458" width="3" height="4" fill="#00ff00"/>
<rect x="1239" y="458" width="1" height="25" fill="#00ff00"/>
<rect x="1238" y="464" width="3" height="4" fill="#00ff00"/>
<rect x="1243" y="459" width="1" height="24" fill="#00ff00"/>
<rect x="1242" y="466" width="3" height="12" fill="#00ff00"/>
<rect x="1247" y="461" width="1" height="24" fill="#00ff00"/>
<rect x="1246" y="475" width="3" height="5" fill="#00ff00"/>
<rect x="1251" y="460" width="1" height="42" fill="#00ff00"/>
<rect x="1250" y="477" width="3" height="6" fill="#00ff00"/>
<rect x="1255" y="471" width="1" height="36" fill="#00ff00"/>
<rect x="1254" y="481" width="3" height="18" fill="#00ff00"/>
<rect x="1259" y="490" width="1" height="12" fill="#ff0000"/>
<rect x="1258" y="494" width="3" height="7" fill="#ff0000"/>
<rect x="1263" y="495" width="1" height="23" fill="#00ff00"/>
<rect x="1262" y="499" width="3" height="13" fill="#00ff00"/>
<rect x="1267" y="497" width="1" height="15" fill="#ff0000"/>
<rect x="1266" y="498" width="3" height="13" fill="#ff0000"/>
<polyline points="3.5,152.3 7.5,152.6 11.5,152.9 15.5,153.0 19.5,153.5 23.5,154.6 27.5,154.6 31.5,154.3 35.5,153.3 39.5,151.4 43.5,149.1 47.5,146.1 51.5,143.5 55.5,140.7 59.5,137.7 63.5,134.6 67.5,131.5 71.5,128.2 75.5,125.5 79.5,123.3 83.5,121.6 87.5,120.4 91.5,119.4 95.5,117.8 99.5,115.8 103.5,113.9 107.5,112.0 111.5,109.2 115.5,107.2 119.5,104.9 123.5,103.1 127.5,102.2 131.5,101.6 135.5,100.9 139.5,99.9 143.5,97.9 147.5,96.6 151.5,95.1 155.5,93.6 159.5,92.7 163.5,91.5 167.5,91.2 171.5,91.6 175.5,92.2 179.5,93.0 183.5,93.8 187.5,94.4 191.5,95.0 195.5,95.0 199.5,94.8 203.5,94.3 207.5,93.3 211.5,92.3 215.5,92.4 219.5,93.4 223.5,94.4 227.5,95.0 231.5,96.8 235.5,97.0 239.5,97.7 243.5,98.1 247.5,98.0 251.5,97.6 255.5,97.6 259.5,97.6 263.5,98.5 267.5,99.6 271.5,100.7 275.5,101.9 279.5,103.3 283.5,104.6 287.5,105.1 291.5,104.5 295.5,102.9 299.5,101.0 303.5,99.4 307.5,98.0 311.5,96.7 315.5,95.8 319.5,95.0 323.5,94.3 327.5,94.8 331.5,95.9 335.5,96.1 339.5,95.9 343.5,95.0 347.5,94.4 351.5,94.2 355.5,95.1 359.5,96.1 363.5,97.3 367.5,99.4 371.5,101.4 375.5,102.9 379.5,105.1 383.5,106.3 387.5,107.8 391.5,109.0 395.5,110.0 399.5,110.8 403.5,112.3 407.5,114.2 411.5,115.7 415.5,118.8 419.5,122.4 423.5,126.7 427.5,131.3 431.5,136.1 435.5,140.5 439.5,144.9 443.5,149.1 447.5,152.7 451.5,154.9 455.5,157.8 459.5,160.0 463.5,162.7 467.5,165.3 471.5,168.0 475.5,170.6 479.5,173.9 483.5,177.4 487.5,179.6 491.5,182.2 495.5,184.4 499.5,186.2 503.5,187.9 507.5,189.3 511.5,190.9 515.5,192.8 519.5,194.7 523.5,195.7 527.5,196.4 531.5,198.3 535.5,200.0 539.5,201.6 543.5,202.0 547.5,201.8 551.5,200.9 555.5,200.0 559.5,199.2 563.5,198.4 567.5,197.1 571.5,196.3 575.5,195.4 579.5,194.6 583.5,193.3 587.5,191.9 591.5,190.2 595.5,188.2 599.5,185.4 603.5,182.5 607.5,181.0 611.5,179.4 615.5,178.2 619.5,176.8 623.5,175.7 627.5,175.6 631.5,176.0 635.5,176.8 639.5,178.3 643.5,181.1 647.5,184.1 651.5,186.8 655.5,190.9 659.5,195.0 663.5,200.5 667.5,206.0 671.5,211.3 675.5,214.5 679.5,217.9 683.5,221.2 687.5,225.8 691.5,227.7 695.5,228.2 699.5,227.3 703.5,226.5 707.5,225.3 711.5,225.1 715.5,225.1 719.5,225.9 723.5,228.7 727.5,232.1 731.5,235.8 735.5,238.4 739.5,240.5 743.5,241.9 747.5,241.6 751.5,240.1 755.5,238.4 759.5,235.8 763.5,233.6 767.5,231.2 771.5,228.8 775.5,224.7 779.5,220.2 783.5,214.6 787.5,210.5 791.5,206.5 795.5,204.2 799.5,202.3 803.5,200.5 807.5,197.5 811.5,196.8 815.5,197.0 819.5,198.8 823.5,200.5 827.5,202.8 831.5,203.9 835.5,204.8 839.5,205.3 843.5,204.8 847.5,204.2 851.5,202.9 855.5,202.3 859.5,200.9 863.5,199.9 867.5,199.5 871.5,200.6 875.5,201.3 879.5,202.0 883.5,202.4 887.5,202.5 891.5,201.4 895.5,200.3 899.5,199.3 903.5,198.9 907.5,197.0 911.5,197.0 915.5,196.8 919.5,195.9 923.5,195.0 927.5,194.5 931.5,194.8 935.5,195.1 939.5,196.4 943.5,198.4 947.5,200.4 951.5,202.5 955.5,204.4 959.5,206.5 963.5,208.1 967.5,207.7 971.5,207.7 975.5,208.7 979.5,212.2 983.5,216.6 987.5,222.2 991.5,225.2 995.5,227.6 999.5,231.0 1003.5,233.8 1007.5,236.7 1011.5,240.1 1015.5,243.2 1019.5,246.3 1023.5,249.9 1027.5,254.3 1031.5,257.0 1035.5,260.2 1039.5,264.0 1043.5,267.9 1047.5,271.0 1051.5,274.1 1055.5,277.7 1059.5,280.6 1063.5,283.1 1067.5,285.7 1071.5,288.7 1075.5,292.0 1079.5,295.6 1083.5,298.1 1087.5,301.6 1091.5,304.7 1095.5,307.3 1099.5,308.9 1103.5,309.1 1107.5,308.3 1111.5,310.2 1115.5,312.6 1119.5,314.3 1123.5,316.7 1127.5,320.1 1131.5,324.0 1135.5,328.6 1139.5,332.9 1143.5,336.9 1147.5,340.9 1151.5,345.9 1155.5,351.5 1159.5,357.0 1163.5,362.0 1167.5,366.7 1171.5,371.5 1175.5,377.6 1179.5,382.9 1183.5,387.6 1187.5,392.4 1191.5,396.4 1195.5,400.1 1199.5,404.2 1203.5,408.7 1207.5,413.3 1211.5,418.2 1215.5,423.5 1219.5,428.9 1223.5,433.9 1227.5,439.1 1231.5,443.1 1235.5,447.1 1239.5,451.3 1243.5,455.2 1247.5,458.3 1251.5,460.8 1255.5,463.6 1259.5,466.2 1263.5,469.1 1267.5,471.1" fill="none" stroke="#0000cd" stroke-width="1"/>
<polyline points="3.5,155.3 7.5,149.9 11.5,144.8 15.5,140.8 19.5,138.7 23.5,138.6 27.5,136.7 31.5,134.6 35.5,131.9 39.5,128.0 43.5,124.1 47.5,119.4 51.5,116.5 55.5,114.0 59.5,112.5 63.5,111.9 67.5,111.3 71.5,109.8 75.5,107.9 79.5,104.2 83.5,102.7 87.5,101.9 91.5,102.1 95.5,102.1 99.5,101.4 103.5,101.9 107.5,101.5 111.5,98.9 115.5,97.8 119.5,96.1 123.5,94.5 127.5,94.2 131.5,93.5 135.5,93.0 139.5,92.2 143.5,90.3 147.5,87.7 151.5,85.9 155.5,84.3 159.5,82.7 163.5,80.1 167.5,80.8 171.5,83.0 175.5,86.9 179.5,90.9 183.5,94.0 187.5,95.8 191.5,97.1 195.5,97.5 199.5,97.7 203.5,97.9 207.5,98.1 211.5,99.4 215.5,101.4 219.5,105.3 223.5,108.7 227.5,108.9 231.5,108.6 235.5,106.3 239.5,104.4 243.5,102.5 247.5,100.6 251.5,99.0 255.5,99.0 259.5,99.2 263.5,101.5 267.5,103.3 271.5,103.6 275.5,102.5 279.5,101.8 283.5,100.6 287.5,98.7 291.5,99.1 295.5,98.0 299.5,97.1 303.5,97.0 307.5,96.7 311.5,95.1 315.5,93.7 319.5,90.3 323.5,86.5 327.5,85.4 331.5,86.5 335.5,86.1 339.5,86.6 343.5,87.0 347.5,87.4 351.5,89.9 355.5,93.6 359.5,97.1 363.5,101.0 367.5,106.4 371.5,110.9 375.5,115.9 379.5,122.5 383.5,126.2 387.5,128.9 391.5,131.2 395.5,132.9 399.5,135.7 403.5,138.8 407.5,141.7 411.5,143.2 415.5,146.6 419.5,151.0 423.5,155.5 427.5,160.8 431.5,166.1 435.5,169.5 439.5,173.0 443.5,174.8 447.5,179.1 451.5,182.7 455.5,186.6 459.5,188.9 463.5,190.9 467.5,193.7 471.5,195.4 475.5,197.0 479.5,198.4 483.5,199.8 487.5,199.7 491.5,200.2 495.5,200.5 499.5,202.1 503.5,201.6 507.5,202.5 511.5,202.3 515.5,203.2 519.5,204.4 523.5,203.9 527.5,202.5 531.5,202.5 535.5,202.6 539.5,202.8 543.5,203.3 547.5,202.7 551.5,201.6 555.5,199.1 559.5,197.0 563.5,194.5 567.5,192.4 571.5,190.2 575.5,188.0 579.5,186.5 583.5,184.4 587.5,179.9 591.5,174.2 595.5,168.4 599.5,162.8 603.5,158.7 607.5,157.0 611.5,156.1 615.5,155.7 619.5,155.9 623.5,155.8 627.5,158.1 631.5,160.8 635.5,165.1 639.5,172.3 643.5,180.9 647.5,189.6 651.5,199.5 655.5,214.4 659.5,229.4 663.5,245.1 667.5,259.6 671.5,272.4 675.5,279.8 679.5,287.5 683.5,292.2 687.5,299.1 691.5,299.2 695.5,294.8 699.5,285.4 703.5,275.1 707.5,262.4 711.5,247.7 715.5,233.0 719.5,217.4 723.5,207.3 727.5,201.6 731.5,201.9 735.5,199.5 739.5,197.1 743.5,190.5 747.5,187.8 751.5,186.3 755.5,189.1 759.5,192.3 763.5,198.6 767.5,202.4 771.5,207.4 775.5,211.7 779.5,211.2 783.5,207.5 787.5,205.2 791.5,204.0 795.5,201.9 799.5,202.5 803.5,204.2 807.5,207.7 811.5,209.9 815.5,211.7 819.5,210.8 823.5,209.5 827.5,206.6 831.5,203.0 835.5,200.0 839.5,197.5 843.5,195.2 847.5,196.7 851.5,199.2 855.5,199.5 859.5,198.0 863.5,195.6 867.5,193.8 871.5,193.9 875.5,194.6 879.5,195.5 883.5,197.8 887.5,199.5 891.5,200.1 895.5,201.0 899.5,199.4 903.5,196.1 907.5,192.6 911.5,192.6 915.5,193.2 919.5,193.9 923.5,194.5 927.5,194.6 931.5,195.9 935.5,196.8 939.5,198.0 943.5,200.7 947.5,204.3 951.5,207.9 955.5,211.0 959.5,213.7 963.5,219.0 967.5,219.8 971.5,222.4 975.5,227.0 979.5,234.8 983.5,243.1 987.5,252.5 991.5,258.4 995.5,261.6 999.5,265.3 1003.5,269.4 1007.5,272.7 1011.5,276.6 1015.5,279.6 1019.5,281.4 1023.5,286.6 1027.5,292.5 1031.5,296.1 1035.5,296.1 1039.5,295.4 1043.5,292.3 1047.5,292.8 1051.5,295.4 1055.5,297.0 1059.5,298.2 1063.5,300.2 1067.5,302.1 1071.5,305.5 1075.5,308.8 1079.5,311.6 1083.5,312.8 1087.5,315.4 1091.5,317.7 1095.5,319.8 1099.5,322.7 1103.5,324.7 1107.5,325.8 1111.5,327.9 1115.5,330.3 1119.5,332.2 1123.5,335.7 1127.5,339.9 1131.5,345.2 1135.5,350.3 1139.5,356.0 1143.5,362.1 1147.5,370.0 1151.5,378.8 1155.5,387.4 1159.5,398.0 1163.5,407.5 1167.5,413.9 1171.5,421.4 1175.5,432.4 1179.5,440.1 1183.5,444.8 1187.5,448.7 1191.5,450.8 1195.5,452.7 1199.5,455.7 1203.5,458.2 1207.5,459.9 1211.5,460.6 1215.5,462.5 1219.5,466.1 1223.5,468.6 1227.5,470.9 1231.5,468.3 1235.5,467.7 1239.5,468.8 1243.5,470.2 1247.5,472.5 1251.5,475.4 1255.5,477.6 1259.5,479.2 1263.5,481.7 1267.5,483.5" fill="none" stroke="#ff0000" stroke-width="1"/>
<polyline points="3.5,148.2 7.5,137.6 11.5,126.9 15.5,117.6 19.5,113.2 23.5,117.1 27.5,119.9 31.5,123.8 35.5,126.1 39.5,122.4 43.5,114.2 47.5,108.3 51.5,106.0 55.5,104.2 59.5,104.8 63.5,103.5 67.5,104.4 71.5,98.9 75.5,96.3 79.5,93.7 83.5,94.2 87.5,97.3 91.5,104.3 95.5,106.0 99.5,106.3 103.5,106.0 107.5,104.8 111.5,95.3 115.5,92.9 119.5,88.6 123.5,83.7 127.5,78.5 131.5,81.4 135.5,80.2 139.5,83.5 143.5,85.6 147.5,86.2 151.5,84.5 155.5,82.0 159.5,79.2 163.5,76.3 167.5,75.9 171.5,85.0 175.5,95.9 179.5,106.7 183.5,117.3 187.5,123.4 191.5,119.6 195.5,113.2 199.5,104.7 203.5,97.2 207.5,90.9 211.5,88.3 215.5,90.1 219.5,97.4 223.5,106.1 227.5,115.2 231.5,121.8 235.5,120.3 239.5,114.8 243.5,106.2 247.5,96.5 251.5,86.3 255.5,84.3 259.5,82.9 263.5,87.9 267.5,95.7 271.5,103.1 275.5,107.3 279.5,113.3 283.5,112.7 287.5,108.9 291.5,107.6 295.5,102.0 299.5,93.1 303.5,86.5 307.5,80.8 311.5,73.2 315.5,70.9 319.5,68.9 323.5,66.2 327.5,71.5 331.5,83.3 335.5,92.0 339.5,102.3 343.5,110.5 347.5,113.2 351.5,111.5 355.5,114.2 359.5,115.9 363.5,119.8 367.5,126.3 371.5,129.6 375.5,131.3 379.5,137.3 383.5,142.1 387.5,146.2 391.5,148.8 395.5,149.8 399.5,147.5 403.5,148.6 407.5,147.4 411.5,148.0 415.5,154.4 419.5,162.6 423.5,172.9 427.5,183.0 431.5,195.4 435.5,201.4 439.5,203.5 443.5,200.5 447.5,200.2 451.5,196.2 455.5,195.4 459.5,193.3 463.5,192.3 467.5,188.8 471.5,189.9 475.5,191.6 479.5,199.4 483.5,208.1 487.5,212.1 491.5,215.0 495.5,213.6 499.5,210.9 503.5,205.3 507.5,204.1 511.5,201.2 515.5,200.7 519.5,198.7 523.5,195.1 527.5,189.9 531.5,192.2 535.5,197.6 539.5,203.6 543.5,210.6 547.5,215.4 551.5,210.9 555.5,201.3 559.5,189.2 563.5,179.2 567.5,172.4 571.5,168.8 575.5,167.4 579.5,165.6 583.5,161.6 587.5,157.3 591.5,153.0 595.5,148.7 599.5,144.2 603.5,143.4 607.5,146.7 611.5,150.6 615.5,153.7 619.5,159.9 623.5,164.4 627.5,171.8 631.5,180.6 635.5,192.1 639.5,207.6 643.5,227.5 647.5,241.1 651.5,257.0 655.5,282.1 659.5,303.4 663.5,326.6 667.5,346.6 671.5,357.9 675.5,342.9 679.5,327.1 683.5,303.7 687.5,291.1 691.5,267.0 695.5,249.7 699.5,221.5 703.5,193.2 707.5,154.4 711.5,137.8 715.5,130.3 719.5,136.3 723.5,156.8 727.5,187.6 731.5,214.8 735.5,233.4 739.5,247.0 743.5,243.9 747.5,228.6 751.5,206.0 755.5,192.3 759.5,179.7 763.5,177.2 767.5,178.6 771.5,189.4 775.5,199.6 779.5,209.8 783.5,212.7 787.5,222.6 791.5,223.8 795.5,219.6 799.5,219.3 803.5,219.1 807.5,213.0 811.5,208.9 815.5,207.0 819.5,200.5 823.5,193.5 827.5,186.2 831.5,180.4 835.5,177.0 839.5,175.3 843.5,182.5 847.5,196.1 851.5,208.9 855.5,218.1 859.5,220.7 863.5,214.1 867.5,200.7 871.5,192.1 875.5,186.7 879.5,186.5 883.5,192.3 887.5,196.3 891.5,194.6 895.5,193.2 899.5,193.5 903.5,191.6 907.5,189.5 911.5,196.9 915.5,199.0 919.5,198.8 923.5,196.2 927.5,197.9 931.5,196.0 935.5,196.4 939.5,203.6 943.5,213.6 947.5,221.7 951.5,226.7 955.5,233.2 959.5,235.7 963.5,240.6 967.5,240.2 971.5,239.6 975.5,243.8 979.5,255.3 983.5,265.5 987.5,287.7 991.5,297.1 995.5,300.3 999.5,299.0 1003.5,295.3 1007.5,283.1 1011.5,284.2 1015.5,286.3 1019.5,285.6 1023.5,288.4 1027.5,295.3 1031.5,298.4 1035.5,301.5 1039.5,304.7 1043.5,303.9 1047.5,297.8 1051.5,298.4 1055.5,301.3 1059.5,303.1 1063.5,305.2 1067.5,310.2 1071.5,314.6 1075.5,318.8 1079.5,325.8 1083.5,330.6 1087.5,335.6 1091.5,335.6 1095.5,335.4 1099.5,335.0 1103.5,331.0 1107.5,327.7 1111.5,330.0 1115.5,332.5 1119.5,331.9 1123.5,341.1 1127.5,354.0 1131.5,367.0 1135.5,381.8 1139.5,397.2 1143.5,409.6 1147.5,419.9 1151.5,429.6 1155.5,438.9 1159.5,448.8 1163.5,454.8 1167.5,453.0 1171.5,451.9 1175.5,457.9 1179.5,458.8 1183.5,458.5 1187.5,464.3 1191.5,464.2 1195.5,453.9 1199.5,453.3 1203.5,457.4 1207.5,461.0 1211.5,466.3 1215.5,476.2 1219.5,483.7 1223.5,482.1 1227.5,482.6 1231.5,479.5 1235.5,473.6 1239.5,466.1 1243.5,468.7 1247.5,468.7 1251.5,473.6 1255.5,481.0 1259.5,486.5 1263.5,493.2 1267.5,497.1" fill="none" stroke="#ffa500" stroke-width="1"/>
<rect x="3" y="254" width="1592" height="2" fill="#ff0000"/>
<rect x="2" y="252" width="6" height="6" fill="#ff0000"/>
<rect x="4" y="254" width="2" height="2" fill="#ffffff"/>
<rect x="1589" y="252" width="6" height="6" fill="#ff0000"/>
<rect x="1591" y="254" width="2" height="2" fill="#ffffff"/>
<rect x="3" y="313" width="1592" height="2" fill="#ff0000"/>
<rect x="2" y="311" width="6" height="6" fill="#ff0000"/>
<rect x="4" y="313" width="2" height="2" fill="#ffffff"/>
<rect x="1589" y="311" width="6" height="6" fill="#ff0000"/>
<rect x="1591" y="313" width="2" height="2" fill="#ffffff"/>
<rect x="3" y="377" width="1592" height="2" fill="#00ff00"/>
<rect x="2" y="375" width="6" height="6" fill="#00ff00"/>
<rect x="4" y="377" width="2" height="2" fill="#ffffff"/>
<rect x="1589" y="375" width="6" height="6" fill="#00ff00"/>
<rect x="1591" y="377" width="2" height="2" fill="#ffffff"/>
<rect x="3" y="437" width="1592" height="2" fill="#0000ff"/>
<rect x="2" y="435" width="6" height="6" fill="#0000ff"/>
<rect x="4" y="437" width="2" height="2" fill="#ffffff"/>
<rect x="1589" y="435" width="6" height="6" fill="#0000ff"/>
<rect x="1591" y="437" width="2" height="2" fill="#ffffff"/>
<rect x="3" y="514" width="1592" height="2" fill="#0000ff"/>
<rect x="2" y="512" width="6" height="6" fill="#0000ff"/>
<rect x="4" y="514" width="2" height="2" fill="#ffffff"/>
<rect x="1589" y="512" width="6" height="6" fill="#0000ff"/>
<rect x="1591" y="514" width="2" height="2" fill="#ffffff"/>
<rect x="2" y="24" width="1594" height="1" fill="#000"/>
<rect x="2" y="529" width="1594" height="1" fill="#000"/>
<rect x="2" y="24" width="1" height="506" fill="#000"/>
<rect x="1595" y="24" width="1" height="506" fill="#000"/>
<rect x="2" y="531" width="1594" height="1" fill="#000"/>
<rect x="2" y="623" width="1594" height="1" fill="#000"/>
<rect x="2" y="531" width="1" height="93" fill="#000"/>
<rect x="1595" y="531" width="1" height="93" fill="#000"/>
<rect x="2" y="625" width="1594" height="1" fill="#000"/>
<rect x="2" y="717" width="1594" height="1" fill="#000"/>
<rect x="2" y="625" width="1" height="93" fill="#000"/>
<rect x="1595" y="625" width="1" height="93" fill="#000"/>
<rect x="2" y="252" width="6" height="6" fill="#ff0000"/>
<rect x="4" y="254" width="2" height="2" fill="#ffffff"/>
<rect x="1589" y="252" width="6" height="6" fill="#ff0000"/>
<rect x="1591" y="254" width="2" height="2" fill="#ffffff"/>
<rect x="2" y="311" width="6" height="6" fill="#ff0000"/>
<rect x="4" y="313" width="2" height="2" fill="#ffffff"/>
<rect x="1589" y="311" width="6" height="6" fill="#ff0000"/>
<rect x="1591" y="313" width="2" height="2" fill="#ffffff"/>
<rect x="2" y="375" width="6" height="6" fill="#00ff00"/>
<rect x="4" y="377" width="2" height="2" fill="#ffffff"/>
<rect x="1589" y="375" width="6" height="6" fill="#00ff00"/>
<rect x="1591" y="377" width="2" height="2" fill="#ffffff"/>
<rect x="2" y="435" width="6" height="6" fill="#0000ff"/>
<rect x="4" y="437" width="2" height="2" fill="#ffffff"/>
<rect x="1589" y="435" width="6" height="6" fill="#0000ff"/>
<rect x="1591" y="437" width="2" height="2" fill="#ffffff"/>
<rect x="2" y="512" width="6" height="6" fill="#0000ff"/>
<rect x="4" y="514" width="2" height="2" fill="#ffffff"/>
<rect x="1589" y="512" width="6" height="6" fill="#0000ff"/>
<rect x="1591" y="514" width="2" height="2" fill="#ffffff"/>
<path d="M1271 25 L1280 25 L1275.5 30 Z" fill="#c0c0c0"/>
<path d="M6 31 L13 31 L9.5 35 Z" fill="#000"/>
<rect x="1596" y="31" width="2" height="1" fill="#000"/>
<rect x="1596" y="64" width="2" height="1" fill="#000"/>
<rect x="1596" y="97" width="2" height="1" fill="#000"/>
<rect x="1596" y="130" width="2" height="1" fill="#000"/>
<rect x="1596" y="163" width="2" height="1" fill="#000"/>
<rect x="1596" y="196" width="2" height="1" fill="#000"/>
<rect x="1596" y="229" width="2" height="1" fill="#000"/>
<rect x="1596" y="262" width="2" height="1" fill="#000"/>
<rect x="1596" y="295" width="2" height="1" fill="#000"/>
<rect x="1596" y="328" width="2" height="1" fill="#000"/>
<rect x="1596" y="361" width="2" height="1" fill="#000"/>
<rect x="1596" y="394" width="2" height="1" fill="#000"/>
<rect x="1596" y="427" width="2" height="1" fill="#000"/>
<rect x="1596" y="460" width="2" height="1" fill="#000"/>
<rect x="1596" y="493" width="2" height="1" fill="#000"/>
<rect x="1596" y="526" width="2" height="1" fill="#000"/>
<rect x="4" y="559" width="3" height="1" fill="#c0c0c0"/>
<rect x="10" y="559" width="3" height="1" fill="#c0c0c0"/>
<rect x="16" y="559" width="3" height="1" fill="#c0c0c0"/>
<rect x="22" y="559" width="3" height="1" fill="#c0c0c0"/>
<rect x="28" y="559" width="3" height="1" fill="#c0c0c0"/>
<rect x="34" y="559" width="3" height="1" fill="#c0c0c0"/>
<rect x="40" y="559" width="3" height="1" fill="#c0c0c0"/>
<rect x="46" y="559" width="3" height="1" fill="#c0c0c0"/>
<rect x="52" y="559" width="3" height="1" fill="#c0c0c0"/>
<rect x="58" y="559" width="3" height="1" fill="#c0c0c0"/>
<rect x="64" y="559" width="3" height="1" fill="#c0c0c0"/>
<rect x="70" y="559" width="3" height="1" fill="#c0c0c0"/>
<rect x="76" y="559" width="3" height="1" fill="#c0c0c0"/>
<rect x="82" y="559" width="3" height="1" fill="#c0c0c0"/>
<rect x="88" y="559" width="3" height="1" fill="#c0c0c0"/>
<rect x="94" y="559" width="3" height="1" fill="#c0c0c0"/>
<rect x="100" y="559" width="3" height="1" fill="#c0c0c0"/>
<rect x="106" y="559" width="3" height="1" fill="#c0c0c0"/>
<rect x="112" y="559" width="3" height="1" fill="#c0c0c0"/>
<rect x="118" y="559" width="3" height="1" fill="#c0c0c0"/>
<rect x="124" y="559" width="3" height="1" fill="#c0c0c0"/>
<rect x="130" y="559" width="3" height="1" fill="#c0c0c0"/>
<rect x="136" y="559" width="3" height="1" fill="#c0c0c0"/>
<rect x="142" y="559" width="3" height="1" fill="#c0c0c0"/>
<rect x="148" y="559" width="3" height="1" fill="#c0c0c0"/>
<rect x="154" y="559" width="3" height="1" fill="#c0c0c0"/>
<rect x="160" y="559" width="3" height="1" fill="#c0c0c0"/>
<rect x="166" y="559" width="3" height="1" fill="#c0c0c0"/>
<rect x="172" y="559" width="3" height="1" fill="#c0c0c0"/>
<rect x="178" y="559" width="3" height="1" fill="#c0c0c0"/>
<rect x="184" y="559" width="3" height="1" fill="#c0c0c0"/>
<rect x="190" y="559" width="3" height="1" fill="#c0c0c0"/>
<rect x="196" y="559" width="3" height="1" fill="#c0c0c0"/>
<rect x="202" y="559" width="3" height="1" fill="#c0c0c0"/>
<rect x="208" y="559" width="3" height="1" fill="#c0c0c0"/>
<rect x="214" y="559" width="3" height="1" fill="#c0c0c0"/>
<rect x="220" y="559" width="3" height="1" fill="#c0c0c0"/>
<rect x="226" y="559" width="3" height="1" fill="#c0c0c0"/>
<rect x="232" y="559" width="3" height="1" fill="#c0c0c0"/>
<rect x="238" y="559" width="3" height="1" fill="#c0c0c0"/>
<rect x="244" y="559" width="3" height="1" fill="#c0c0c0"/>
<rect x="250" y="559" width="3" height="1" fill="#c0c0c0"/>
<rect x="256" y="559" width="3" height="1" fill="#c0c0c0"/>
<rect x="262" y="559" width="3" height="1" fill="#c0c0c0"/>
<rect x="268" y="559" width="3" height="1" fill="#c0c0c0"/>
<rect x="274" y="559" width="3" height="1" fill="#c0c0c0"/>
<rect x="280" y="559" width="3" height="1" fill="#c0c0c0"/>
<rect x="286" y="559" width="3" height="1" fill="#c0c0c0"/>
<rect x="292" y="559" width="3" height="1" fill="#c0c0c0"/>
<rect x="298" y="559" width="3" height="1" fill="#c0c0c0"/>
<rect x="304" y="559" width="3" height="1" fill="#c0c0c0"/>
<rect x="310" y="559" width="3" height="1" fill="#c0c0c0"/>
<rect x="316" y="559" width="3" height="1" fill="#c0c0c0"/>
<rect x="322" y="559" width="3" height="1" fill="#c0c0c0"/>
<rect x="328" y="559" width="3" height="1" fill="#c0c0c0"/>
<rect x="334" y="559" width="3" height="1" fill="#c0c0c0"/>
<rect x="340" y="559" width="3" height="1" fill="#c0c0c0"/>
<rect x="346" y="559" width="3" height="1" fill="#c0c0c0"/>
<rect x="352" y="559" width="3" height="1" fill="#c0c0c0"/>
<rect x="358" y="559" width="3" height="1" fill="#c0c0c0"/>
<rect x="364" y="559" width="3" height="1" fill="#c0c0c0"/>
<rect x="370" y="559" width="3" height="1" fill="#c0c0c0"/>
<rect x="376" y="559" width="3" height="1" fill="#c0c0c0"/>
<rect x="382" y="559" width="3" height="1" fill="#c0c0c0"/>
<rect x="388" y="559" width="3" height="1" fill="#c0c0c0"/>
<rect x="394" y="559" width="3" height="1" fill="#c0c0c0"/>
<rect x="400" y="559" width="3" height="1" fill="#c0c0c0"/>
<rect x="406" y="559" width="3" height="1" fill="#c0c0c0"/>
<rect x="412" y="559" width="3" height="1" fill="#c0c0c0"/>
<rect x="418" y="559" width="3" height="1" fill="#c0c0c0"/>
<rect x="424" y="559" width="3" height="1" fill="#c0c0c0"/>
<rect x="430" y="559" width="3" height="1" fill="#c0c0c0"/>
<rect x="436" y="559" width="3" height="1" fill="#c0c0c0"/>
<rect x="442" y="559" width="3" height="1" fill="#c0c0c0"/>
<rect x="448" y="559" width="3" height="1" fill="#c0c0c0"/>
<rect x="454" y="559" width="3" height="1" fill="#c0c0c0"/>
<rect x="460" y="559" width="3" height="1" fill="#c0c0c0"/>
<rect x="466" y="559" width="3" height="1" fill="#c0c0c0"/>
<rect x="472" y="559" width="3" height="1" fill="#c0c0c0"/>
<rect x="478" y="559" width="3" height="1" fill="#c0c0c0"/>
<rect x="484" y="559" width="3" height="1" fill="#c0c0c0"/>
<rect x="490" y="559" width="3" height="1" fill="#c0c0c0"/>
<rect x="496" y="559" width="3" height="1" fill="#c0c0c0"/>
<rect x="502" y="559" width="3" height="1" fill="#c0c0c0"/>
<rect x="508" y="559" width="3" height="1" fill="#c0c0c0"/>
<rect x="514" y="559" width="3" height="1" fill="#c0c0c0"/>
<rect x="520" y="559" width="3" height="1" fill="#c0c0c0"/>
<rect x="526" y="559" width="3" height="1" fill="#c0c0c0"/>
<rect x="532" y="559" width="3" height="1" fill="#c0c0c0"/>
<rect x="538" y="559" width="3" height="1" fill="#c0c0c0"/>
<rect x="544" y="559" width="3" height="1" fill="#c0c0c0"/>
<rect x="550" y="559" width="3" height="1" fill="#c0c0c0"/>
<rect x="556" y="559" width="3" height="1" fill="#c0c0c0"/>
<rect x="562" y="559" width="3" height="1" fill="#c0c0c0"/>
<rect x="568" y="559" width="3" height="1" fill="#c0c0c0"/>
<rect x="574" y="559" width="3" height="1" fill="#c0c0c0"/>
<rect x="580" y="559" width="3" height="1" fill="#c0c0c0"/>
<rect x="586" y="559" width="3" height="1" fill="#c0c0c0"/>
<rect x="592" y="559" width="3" height="1" fill="#c0c0c0"/>
<rect x="598" y="559" width="3" height="1" fill="#c0c0c0"/>
<rect x="604" y="559" width="3" height="1" fill="#c0c0c0"/>
<rect x="610" y="559" width="3" height="1" fill="#c0c0c0"/>
<rect x="616" y="559" width="3" height="1" fill="#c0c0c0"/>
<rect x="622" y="559" width="3" height="1" fill="#c0c0c0"/>
<rect x="628" y="559" width="3" height="1" fill="#c0c0c0"/>
<rect x="634" y="559" width="3" height="1" fill="#c0c0c0"/>
<rect x="640" y="559" width="3" height="1" fill="#c0c0c0"/>
<rect x="646" y="559" width="3" height="1" fill="#c0c0c0"/>
<rect x="652" y="559" width="3" height="1" fill="#c0c0c0"/>
<rect x="658" y="559" width="3" height="1" fill="#c0c0c0"/>
<rect x="664" y="559" width="3" height="1" fill="#c0c0c0"/>
<rect x="670" y="559" width="3" height="1" fill="#c0c0c0"/>
<rect x="676" y="559" width="3" height="1" fill="#c0c0c0"/>
<rect x="682" y="559" width="3" height="1" fill="#c0c0c0"/>
<rect x="688" y="559" width="3" height="1" fill="#c0c0c0"/>
<rect x="694" y="559" width="3" height="1" fill="#c0c0c0"/>
<rect x="700" y="559" width="3" height="1" fill="#c0c0c0"/>
<rect x="706" y="559" width="3" height="1" fill="#c0c0c0"/>
<rect x="712" y="559" width="3" height="1" fill="#c0c0c0"/>
<rect x="718" y="559" width="3" height="1" fill="#c0c0c0"/>
<rect x="724" y="559" width="3" height="1" fill="#c0c0c0"/>
<rect x="730" y="559" width="3" height="1" fill="#c0c0c0"/>
<rect x="736" y="559" width="3" height="1" fill="#c0c0c0"/>
<rect x="742" y="559" width="3" height="1" fill="#c0c0c0"/>
<rect x="748" y="559" width="3" height="1" fill="#c0c0c0"/>
<rect x="754" y="559" width="3" height="1" fill="#c0c0c0"/>
<rect x="760" y="559" width="3" height="1" fill="#c0c0c0"/>
<rect x="766" y="559" width="3" height="1" fill="#c0c0c0"/>
<rect x="772" y="559" width="3" height="1" fill="#c0c0c0"/>
<rect x="778" y="559" width="3" height="1" fill="#c0c0c0"/>
<rect x="784" y="559" width="3" height="1" fill="#c0c0c0"/>
<rect x="790" y="559" width="3" height="1" fill="#c0c0c0"/>
<rect x="796" y="559" width="3" height="1" fill="#c0c0c0"/>
<rect x="802" y="559" width="3" height="1" fill="#c0c0c0"/>
<rect x="808" y="559" width="3" height="1" fill="#c0c0c0"/>
<rect x="814" y="559" width="3" height="1" fill="#c0c0c0"/>
<rect x="820" y="559" width="3" height="1" fill="#c0c0c0"/>
<rect x="826" y="559" width="3" height="1" fill="#c0c0c0"/>
<rect x="832" y="559" width="3" height="1" fill="#c0c0c0"/>
<rect x="838" y="559" width="3" height="1" fill="#c0c0c0"/>
<rect x="844" y="559" width="3" height="1" fill="#c0c0c0"/>
<rect x="850" y="559" width="3" height="1" fill="#c0c0c0"/>
<rect x="856" y="559" width="3" height="1" fill="#c0c0c0"/>
<rect x="862" y="559" width="3" height="1" fill="#c0c0c0"/>
<rect x="868" y="559" width="3" height="1" fill="#c0c0c0"/>
<rect x="874" y="559" width="3" height="1" fill="#c0c0c0"/>
<rect x="880" y="559" width="3" height="1" fill="#c0c0c0"/>
<rect x="886" y="559" width="3" height="1" fill="#c0c0c0"/>
<rect x="892" y="559" width="3" height="1" fill="#c0c0c0"/>
<rect x="898" y="559" width="3" height="1" fill="#c0c0c0"/>
<rect x="904" y="559" width="3" height="1" fill="#c0c0c0"/>
<rect x="910" y="559" width="3" height="1" fill="#c0c0c0"/>
<rect x="916" y="559" width="3" height="1" fill="#c0c0c0"/>
<rect x="922" y="559" width="3" height="1" fill="#c0c0c0"/>
<rect x="928" y="559" width="3" height="1" fill="#c0c0c0"/>
<rect x="934" y="559" width="3" height="1" fill="#c0c0c0"/>
<rect x="940" y="559" width="3" height="1" fill="#c0c0c0"/>
<rect x="946" y="559" width="3" height="1" fill="#c0c0c0"/>
<rect x="952" y="559" width="3" height="1" fill="#c0c0c0"/>
<rect x="958" y="559" width="3" height="1" fill="#c0c0c0"/>
<rect x="964" y="559" width="3" height="1" fill="#c0c0c0"/>
<rect x="970" y="559" width="3" height="1" fill="#c0c0c0"/>
<rect x="976" y="559" width="3" height="1" fill="#c0c0c0"/>
<rect x="982" y="559" width="3" height="1" fill="#c0c0c0"/>
<rect x="988" y="559" width="3" height="1" fill="#c0c0c0"/>
<rect x="994" y="559" width="3" height="1" fill="#c0c0c0"/>
<rect x="1000" y="559" width="3" height="1" fill="#c0c0c0"/>
<rect x="1006" y="559" width="3" height="1" fill="#c0c0c0"/>
<rect x="1012" y="559" width="3" height="1" fill="#c0c0c0"/>
<rect x="1018" y="559" width="3" height="1" fill="#c0c0c0"/>
<rect x="1024" y="559" width="3" height="1" fill="#c0c0c0"/>
<rect x="1030" y="559" width="3" height="1" fill="#c0c0c0"/>
<rect x="1036" y="559" width="3" height="1" fill="#c0c0c0"/>
<rect x="1042" y="559" width="3" height="1" fill="#c0c0c0"/>
<rect x="1048" y="559" width="3" height="1" fill="#c0c0c0"/>
<rect x="1054" y="559" width="3" height="1" fill="#c0c0c0"/>
<rect x="1060" y="559" width="3" height="1" fill="#c0c0c0"/>
<rect x="1066" y="559" width="3" height="1" fill="#c0c0c0"/>
<rect x="1072" y="559" width="3" height="1" fill="#c0c0c0"/>
<rect x="1078" y="559" width="3" height="1" fill="#c0c0c0"/>
<rect x="1084" y="559" width="3" height="1" fill="#c0c0c0"/>
<rect x="1090" y="559" width="3" height="1" fill="#c0c0c0"/>
<rect x="1096" y="559" width="3" height="1" fill="#c0c0c0"/>
<rect x="1102" y="559" width="3" height="1" fill="#c0c0c0"/>
<rect x="1108" y="559" width="3" height="1" fill="#c0c0c0"/>
<rect x="1114" y="559" width="3" height="1" fill="#c0c0c0"/>
<rect x="1120" y="559" width="3" height="1" fill="#c0c0c0"/>
<rect x="1126" y="559" width="3" height="1" fill="#c0c0c0"/>
<rect x="1132" y="559" width="3" height="1" fill="#c0c0c0"/>
<rect x="1138" y="559" width="3" height="1" fill="#c0c0c0"/>
<rect x="1144" y="559" width="3" height="1" fill="#c0c0c0"/>
<rect x="1150" y="559" width="3" height="1" fill="#c0c0c0"/>
<rect x="1156" y="559" width="3" height="1" fill="#c0c0c0"/>
<rect x="1162" y="559" width="3" height="1" fill="#c0c0c0"/>
<rect x="1168" y="559" width="3" height="1" fill="#c0c0c0"/>
<rect x="1174" y="559" width="3" height="1" fill="#c0c0c0"/>
<rect x="1180" y="559" width="3" height="1" fill="#c0c0c0"/>
<rect x="1186" y="559" width="3" height="1" fill="#c0c0c0"/>
<rect x="1192" y="559" width="3" height="1" fill="#c0c0c0"/>
<rect x="1198" y="559" width="3" height="1" fill="#c0c0c0"/>
<rect x="1204" y="559" width="3" height="1" fill="#c0c0c0"/>
<rect x="1210" y="559" width="3" height="1" fill="#c0c0c0"/>
<rect x="1216" y="559" width="3" height="1" fill="#c0c0c0"/>
<rect x="1222" y="559" width="3" height="1" fill="#c0c0c0"/>
<rect x="1228" y="559" width="3" height="1" fill="#c0c0c0"/>
<rect x="1234" y="559" width="3" height="1" fill="#c0c0c0"/>
<rect x="1240" y="559" width="3" height="1" fill="#c0c0c0"/>
<rect x="1246" y="559" width="3" height="1" fill="#c0c0c0"/>
<rect x="1252" y="559" width="3" height="1" fill="#c0c0c0"/>
<rect x="1258" y="559" width="3" height="1" fill="#c0c0c0"/>
<rect x="1264" y="559" width="3" height="1" fill="#c0c0c0"/>
<rect x="1270" y="559" width="3" height="1" fill="#c0c0c0"/>
<rect x="1276" y="559" width="3" height="1" fill="#c0c0c0"/>
<rect x="1282" y="559" width="3" height="1" fill="#c0c0c0"/>
<rect x="1288" y="559" width="3" height="1" fill="#c0c0c0"/>
<rect x="1294" y="559" width="3" height="1" fill="#c0c0c0"/>
<rect x="1300" y="559" width="3" height="1" fill="#c0c0c0"/>
<rect x="1306" y="559" width="3" height="1" fill="#c0c0c0"/>
<rect x="1312" y="559" width="3" height="1" fill="#c0c0c0"/>
<rect x="1318" y="559" width="3" height="1" fill="#c0c0c0"/>
<rect x="1324" y="559" width="3" height="1" fill="#c0c0c0"/>
<rect x="1330" y="559" width="3" height="1" fill="#c0c0c0"/>
<rect x="1336" y="559" width="3" height="1" fill="#c0c0c0"/>
<rect x="1342" y="559" width="3" height="1" fill="#c0c0c0"/>
<rect x="1348" y="559" width="3" height="1" fill="#c0c0c0"/>
<rect x="1354" y="559" width="3" height="1" fill="#c0c0c0"/>
<rect x="1360" y="559" width="3" height="1" fill="#c0c0c0"/>
<rect x="1366" y="559" width="3" height="1" fill="#c0c0c0"/>
<rect x="1372" y="559" width="3" height="1" fill="#c0c0c0"/>
<rect x="1378" y="559" width="3" height="1" fill="#c0c0c0"/>
<rect x="1384" y="559" width="3" height="1" fill="#c0c0c0"/>
<rect x="1390" y="559" width="3" height="1" fill="#c0c0c0"/>
<rect x="1396" y="559" width="3" height="1" fill="#c0c0c0"/>
<rect x="1402" y="559" width="3" height="1" fill="#c0c0c0"/>
<rect x="1408" y="559" width="3" height="1" fill="#c0c0c0"/>
<rect x="1414" y="559" width="3" height="1" fill="#c0c0c0"/>
<rect x="1420" y="559" width="3" height="1" fill="#c0c0c0"/>
<rect x="1426" y="559" width="3" height="1" fill="#c0c0c0"/>
<rect x="1432" y="559" width="3" height="1" fill="#c0c0c0"/>
<rect x="1438" y="559" width="3" height="1" fill="#c0c0c0"/>
<rect x="1444" y="559" width="3" height="1" fill="#c0c0c0"/>
<rect x="1450" y="559" width="3" height="1" fill="#c0c0c0"/>
<rect x="1456" y="559" width="3" height="1" fill="#c0c0c0"/>
<rect x="1462" y="559" width="3" height="1" fill="#c0c0c0"/>
<rect x="1468" y="559" width="3" height="1" fill="#c0c0c0"/>
<rect x="1474" y="559" width="3" height="1" fill="#c0c0c0"/>
<rect x="1480" y="559" width="3" height="1" fill="#c0c0c0"/>
<rect x="1486" y="559" width="3" height="1" fill="#c0c0c0"/>
<rect x="1492" y="559" width="3" height="1" fill="#c0c0c0"/>
<rect x="1498" y="559" width="3" height="1" fill="#c0c0c0"/>
<rect x="1504" y="559" width="3" height="1" fill="#c0c0c0"/>
<rect x="1510" y="559" width="3" height="1" fill="#c0c0c0"/>
<rect x="1516" y="559" width="3" height="1" fill="#c0c0c0"/>
<rect x="1522" y="559" width="3" height="1" fill="#c0c0c0"/>
<rect x="1528" y="559" width="3" height="1" fill="#c0c0c0"/>
<rect x="1534" y="559" width="3" height="1" fill="#c0c0c0"/>
<rect x="1540" y="559" width="3" height="1" fill="#c0c0c0"/>
<rect x="1546" y="559" width="3" height="1" fill="#c0c0c0"/>
<rect x="1552" y="559" width="3" height="1" fill="#c0c0c0"/>
<rect x="1558" y="559" width="3" height="1" fill="#c0c0c0"/>
<rect x="1564" y="559" width="3" height="1" fill="#c0c0c0"/>
<rect x="1570" y="559" width="3" height="1" fill="#c0c0c0"/>
<rect x="1576" y="559" width="3" height="1" fill="#c0c0c0"/>
<rect x="1582" y="559" width="3" height="1" fill="#c0c0c0"/>
<rect x="1588" y="559" width="3" height="1" fill="#c0c0c0"/>
<rect x="4" y="595" width="3" height="1" fill="#c0c0c0"/>
<rect x="10" y="595" width="3" height="1" fill="#c0c0c0"/>
<rect x="16" y="595" width="3" height="1" fill="#c0c0c0"/>
<rect x="22" y="595" width="3" height="1" fill="#c0c0c0"/>
<rect x="28" y="595" width="3" height="1" fill="#c0c0c0"/>
<rect x="34" y="595" width="3" height="1" fill="#c0c0c0"/>
<rect x="40" y="595" width="3" height="1" fill="#c0c0c0"/>
<rect x="46" y="595" width="3" height="1" fill="#c0c0c0"/>
<rect x="52" y="595" width="3" height="1" fill="#c0c0c0"/>
<rect x="58" y="595" width="3" height="1" fill="#c0c0c0"/>
<rect x="64" y="595" width="3" height="1" fill="#c0c0c0"/>
<rect x="70" y="595" width="3" height="1" fill="#c0c0c0"/>
<rect x="76" y="595" width="3" height="1" fill="#c0c0c0"/>
<rect x="82" y="595" width="3" height="1" fill="#c0c0c0"/>
<rect x="88" y="595" width="3" height="1" fill="#c0c0c0"/>
<rect x="94" y="595" width="3" height="1" fill="#c0c0c0"/>
<rect x="100" y="595" width="3" height="1" fill="#c0c0c0"/>
<rect x="106" y="595" width="3" height="1" fill="#c0c0c0"/>
<rect x="112" y="595" width="3" height="1" fill="#c0c0c0"/>
<rect x="118" y="595" width="3" height="1" fill="#c0c0c0"/>
<rect x="124" y="595" width="3" height="1" fill="#c0c0c0"/>
<rect x="130" y="595" width="3" height="1" fill="#c0c0c0"/>
<rect x="136" y="595" width="3" height="1" fill="#c0c0c0"/>
<rect x="142" y="595" width="3" height="1" fill="#c0c0c0"/>
<rect x="148" y="595" width="3" height="1" fill="#c0c0c0"/>
<rect x="154" y="595" width="3" height="1" fill="#c0c0c0"/>
<rect x="160" y="595" width="3" height="1" fill="#c0c0c0"/>
<rect x="166" y="595" width="3" height="1" fill="#c0c0c0"/>
<rect x="172" y="595" width="3" height="1" fill="#c0c0c0"/>
<rect x="178" y="595" width="3" height="1" fill="#c0c0c0"/>
<rect x="184" y="595" width="3" height="1" fill="#c0c0c0"/>
<rect x="190" y="595" width="3" height="1" fill="#c0c0c0"/>
<rect x="196" y="595" width="3" height="1" fill="#c0c0c0"/>
<rect x="202" y="595" width="3" height="1" fill="#c0c0c0"/>
<rect x="208" y="595" width="3" height="1" fill="#c0c0c0"/>
<rect x="214" y="595" width="3" height="1" fill="#c0c0c0"/>
<rect x="220" y="595" width="3" height="1" fill="#c0c0c0"/>
<rect x="226" y="595" width="3" height="1" fill="#c0c0c0"/>
<rect x="232" y="595" width="3" height="1" fill="#c0c0c0"/>
<rect x="238" y="595" width="3" height="1" fill="#c0c0c0"/>
<rect x="244" y="595" width="3" height="1" fill="#c0c0c0"/>
<rect x="250" y="595" width="3" height="1" fill="#c0c0c0"/>
<rect x="256" y="595" width="3" height="1" fill="#c0c0c0"/>
<rect x="262" y="595" width="3" height="1" fill="#c0c0c0"/>
<rect x="268" y="595" width="3" height="1" fill="#c0c0c0"/>
<rect x="274" y="595" width="3" height="1" fill="#c0c0c0"/>
<rect x="280" y="595" width="3" height="1" fill="#c0c0c0"/>
<rect x="286" y="595" width="3" height="1" fill="#c0c0c0"/>
<rect x="292" y="595" width="3" height="1" fill="#c0c0c0"/>
<rect x="298" y="595" width="3" height="1" fill="#c0c0c0"/>
<rect x="304" y="595" width="3" height="1" fill="#c0c0c0"/>
<rect x="310" y="595" width="3" height="1" fill="#c0c0c0"/>
<rect x="316" y="595" width="3" height="1" fill="#c0c0c0"/>
<rect x="322" y="595" width="3" height="1" fill="#c0c0c0"/>
<rect x="328" y="595" width="3" height="1" fill="#c0c0c0"/>
<rect x="334" y="595" width="3" height="1" fill="#c0c0c0"/>
<rect x="340" y="595" width="3" height="1" fill="#c0c0c0"/>
<rect x="346" y="595" width="3" height="1" fill="#c0c0c0"/>
<rect x="352" y="595" width="3" height="1" fill="#c0c0c0"/>
<rect x="358" y="595" width="3" height="1" fill="#c0c0c0"/>
<rect x="364" y="595" width="3" height="1" fill="#c0c0c0"/>
<rect x="370" y="595" width="3" height="1" fill="#c0c0c0"/>
<rect x="376" y="595" width="3" height="1" fill="#c0c0c0"/>
<rect x="382" y="595" width="3" height="1" fill="#c0c0c0"/>
<rect x="388" y="595" width="3" height="1" fill="#c0c0c0"/>
<rect x="394" y="595" width="3" height="1" fill="#c0c0c0"/>
<rect x="400" y="595" width="3" height="1" fill="#c0c0c0"/>
<rect x="406" y="595" width="3" height="1" fill="#c0c0c0"/>
<rect x="412" y="595" width="3" height="1" fill="#c0c0c0"/>
<rect x="418" y="595" width="3" height="1" fill="#c0c0c0"/>
<rect x="424" y="595" width="3" height="1" fill="#c0c0c0"/>
<rect x="430" y="595" width="3" height="1" fill="#c0c0c0"/>
<rect x="436" y="595" width="3" height="1" fill="#c0c0c0"/>
<rect x="442" y="595" width="3" height="1" fill="#c0c0c0"/>
<rect x="448" y="595" width="3" height="1" fill="#c0c0c0"/>
<rect x="454" y="595" width="3" height="1" fill="#c0c0c0"/>
<rect x="460" y="595" width="3" height="1" fill="#c0c0c0"/>
<rect x="466" y="595" width="3" height="1" fill="#c0c0c0"/>
<rect x="472" y="595" width="3" height="1" fill="#c0c0c0"/>
<rect x="478" y="595" width="3" height="1" fill="#c0c0c0"/>
<rect x="484" y="595" width="3" height="1" fill="#c0c0c0"/>
<rect x="490" y="595" width="3" height="1" fill="#c0c0c0"/>
<rect x="496" y="595" width="3" height="1" fill="#c0c0c0"/>
<rect x="502" y="595" width="3" height="1" fill="#c0c0c0"/>
<rect x="508" y="595" width="3" height="1" fill="#c0c0c0"/>
<rect x="514" y="595" width="3" height="1" fill="#c0c0c0"/>
<rect x="520" y="595" width="3" height="1" fill="#c0c0c0"/>
<rect x="526" y="595" width="3" height="1" fill="#c0c0c0"/>
<rect x="532" y="595" width="3" height="1" fill="#c0c0c0"/>
<rect x="538" y="595" width="3" height="1" fill="#c0c0c0"/>
<rect x="544" y="595" width="3" height="1" fill="#c0c0c0"/>
<rect x="550" y="595" width="3" height="1" fill="#c0c0c0"/>
<rect x="556" y="595" width="3" height="1" fill="#c0c0c0"/>
<rect x="562" y="595" width="3" height="1" fill="#c0c0c0"/>
<rect x="568" y="595" width="3" height="1" fill="#c0c0c0"/>
<rect x="574" y="595" width="3" height="1" fill="#c0c0c0"/>
<rect x="580" y="595" width="3" height="1" fill="#c0c0c0"/>
<rect x="586" y="595" width="3" height="1" fill="#c0c0c0"/>
<rect x="592" y="595" width="3" height="1" fill="#c0c0c0"/>
<rect x="598" y="595" width="3" height="1" fill="#c0c0c0"/>
<rect x="604" y="595" width="3" height="1" fill="#c0c0c0"/>
<rect x="610" y="595" width="3" height="1" fill="#c0c0c0"/>
<rect x="616" y="595" width="3" height="1" fill="#c0c0c0"/>
<rect x="622" y="595" width="3" height="1" fill="#c0c0c0"/>
<rect x="628" y="595" width="3" height="1" fill="#c0c0c0"/>
<rect x="634" y="595" width="3" height="1" fill="#c0c0c0"/>
<rect x="640" y="595" width="3" height="1" fill="#c0c0c0"/>
<rect x="646" y="595" width="3" height="1" fill="#c0c0c0"/>
<rect x="652" y="595" width="3" height="1" fill="#c0c0c0"/>
<rect x="658" y="595" width="3" height="1" fill="#c0c0c0"/>
<rect x="664" y="595" width="3" height="1" fill="#c0c0c0"/>
<rect x="670" y="595" width="3" height="1" fill="#c0c0c0"/>
<rect x="676" y="595" width="3" height="1" fill="#c0c0c0"/>
<rect x="682" y="595" width="3" height="1" fill="#c0c0c0"/>
<rect x="688" y="595" width="3" height="1" fill="#c0c0c0"/>
<rect x="694" y="595" width="3" height="1" fill="#c0c0c0"/>
<rect x="700" y="595" width="3" height="1" fill="#c0c0c0"/>
<rect x="706" y="595" width="3" height="1" fill="#c0c0c0"/>
<rect x="712" y="595" width="3" height="1" fill="#c0c0c0"/>
<rect x="718" y="595" width="3" height="1" fill="#c0c0c0"/>
<rect x="724" y="595" width="3" height="1" fill="#c0c0c0"/>
<rect x="730" y="595" width="3" height="1" fill="#c0c0c0"/>
<rect x="736" y="595" width="3" height="1" fill="#c0c0c0"/>
<rect x="742" y="595" width="3" height="1" fill="#c0c0c0"/>
<rect x="748" y="595" width="3" height="1" fill="#c0c0c0"/>
<rect x="754" y="595" width="3" height="1" fill="#c0c0c0"/>
<rect x="760" y="595" width="3" height="1" fill="#c0c0c0"/>
<rect x="766" y="595" width="3" height="1" fill="#c0c0c0"/>
<rect x="772" y="595" width="3" height="1" fill="#c0c0c0"/>
<rect x="778" y="595" width="3" height="1" fill="#c0c0c0"/>
<rect x="784" y="595" width="3" height="1" fill="#c0c0c0"/>
<rect x="790" y="595" width="3" height="1" fill="#c0c0c0"/>
<rect x="796" y="595" width="3" height="1" fill="#c0c0c0"/>
<rect x="802" y="595" width="3" height="1" fill="#c0c0c0"/>
<rect x="808" y="595" width="3" height="1" fill="#c0c0c0"/>
<rect x="814" y="595" width="3" height="1" fill="#c0c0c0"/>
<rect x="820" y="595" width="3" height="1" fill="#c0c0c0"/>
<rect x="826" y="595" width="3" height="1" fill="#c0c0c0"/>
<rect x="832" y="595" width="3" height="1" fill="#c0c0c0"/>
<rect x="838" y="595" width="3" height="1" fill="#c0c0c0"/>
<rect x="844" y="595" width="3" height="1" fill="#c0c0c0"/>
<rect x="850" y="595" width="3" height="1" fill="#c0c0c0"/>
<rect x="856" y="595" width="3" height="1" fill="#c0c0c0"/>
<rect x="862" y="595" width="3" height="1" fill="#c0c0c0"/>
<rect x="868" y="595" width="3" height="1" fill="#c0c0c0"/>
<rect x="874" y="595" width="3" height="1" fill="#c0c0c0"/>
<rect x="880" y="595" width="3" height="1" fill="#c0c0c0"/>
<rect x="886" y="595" width="3" height="1" fill="#c0c0c0"/>
<rect x="892" y="595" width="3" height="1" fill="#c0c0c0"/>
<rect x="898" y="595" width="3" height="1" fill="#c0c0c0"/>
<rect x="904" y="595" width="3" height="1" fill="#c0c0c0"/>
<rect x="910" y="595" width="3" height="1" fill="#c0c0c0"/>
<rect x="916" y="595" width="3" height="1" fill="#c0c0c0"/>
<rect x="922" y="595" width="3" height="1" fill="#c0c0c0"/>
<rect x="928" y="595" width="3" height="1" fill="#c0c0c0"/>
<rect x="934" y="595" width="3" height="1" fill="#c0c0c0"/>
<rect x="940" y="595" width="3" height="1" fill="#c0c0c0"/>
<rect x="946" y="595" width="3" height="1" fill="#c0c0c0"/>
<rect x="952" y="595" width="3" height="1" fill="#c0c0c0"/>
<rect x="958" y="595" width="3" height="1" fill="#c0c0c0"/>
<rect x="964" y="595" width="3" height="1" fill="#c0c0c0"/>
<rect x="970" y="595" width="3" height="1" fill="#c0c0c0"/>
<rect x="976" y="595" width="3" height="1" fill="#c0c0c0"/>
<rect x="982" y="595" width="3" height="1" fill="#c0c0c0"/>
<rect x="988" y="595" width="3" height="1" fill="#c0c0c0"/>
<rect x="994" y="595" width="3" height="1" fill="#c0c0c0"/>
<rect x="1000" y="595" width="3" height="1" fill="#c0c0c0"/>
<rect x="1006" y="595" width="3" height="1" fill="#c0c0c0"/>
<rect x="1012" y="595" width="3" height="1" fill="#c0c0c0"/>
<rect x="1018" y="595" width="3" height="1" fill="#c0c0c0"/>
<rect x="1024" y="595" width="3" height="1" fill="#c0c0c0"/>
<rect x="1030" y="595" width="3" height="1" fill="#c0c0c0"/>
<rect x="1036" y="595" width="3" height="1" fill="#c0c0c0"/>
<rect x="1042" y="595" width="3" height="1" fill="#c0c0c0"/>
<rect x="1048" y="595" width="3" height="1" fill="#c0c0c0"/>
<rect x="1054" y="595" width="3" height="1" fill="#c0c0c0"/>
<rect x="1060" y="595" width="3" height="1" fill="#c0c0c0"/>
<rect x="1066" y="595" width="3" height="1" fill="#c0c0c0"/>
<rect x="1072" y="595" width="3" height="1" fill="#c0c0c0"/>
<rect x="1078" y="595" width="3" height="1" fill="#c0c0c0"/>
<rect x="1084" y="595" width="3" height="1" fill="#c0c0c0"/>
<rect x="1090" y="595" width="3" height="1" fill="#c0c0c0"/>
<rect x="1096" y="595" width="3" height="1" fill="#c0c0c0"/>
<rect x="1102" y="595" width="3" height="1" fill="#c0c0c0"/>
<rect x="1108" y="595" width="3" height="1" fill="#c0c0c0"/>
<rect x="1114" y="595" width="3" height="1" fill="#c0c0c0"/>
<rect x="1120" y="595" width="3" height="1" fill="#c0c0c0"/>
<rect x="1126" y="595" width="3" height="1" fill="#c0c0c0"/>
<rect x="1132" y="595" width="3" height="1" fill="#c0c0c0"/>
<rect x="1138" y="595" width="3" height="1" fill="#c0c0c0"/>
<rect x="1144" y="595" width="3" height="1" fill="#c0c0c0"/>
<rect x="1150" y="595" width="3" height="1" fill="#c0c0c0"/>
<rect x="1156" y="595" width="3" height="1" fill="#c0c0c0"/>
<rect x="1162" y="595" width="3" height="1" fill="#c0c0c0"/>
<rect x="1168" y="595" width="3" height="1" fill="#c0c0c0"/>
<rect x="1174" y="595" width="3" height="1" fill="#c0c0c0"/>
<rect x="1180" y="595" width="3" height="1" fill="#c0c0c0"/>
<rect x="1186" y="595" width="3" height="1" fill="#c0c0c0"/>
<rect x="1192" y="595" width="3" height="1" fill="#c0c0c0"/>
<rect x="1198" y="595" width="3" height="1" fill="#c0c0c0"/>
<rect x="1204" y="595" width="3" height="1" fill="#c0c0c0"/>
<rect x="1210" y="595" width="3" height="1" fill="#c0c0c0"/>
<rect x="1216" y="595" width="3" height="1" fill="#c0c0c0"/>
<rect x="1222" y="595" width="3" height="1" fill="#c0c0c0"/>
<rect x="1228" y="595" width="3" height="1" fill="#c0c0c0"/>
<rect x="1234" y="595" width="3" height="1" fill="#c0c0c0"/>
<rect x="1240" y="595" width="3" height="1" fill="#c0c0c0"/>
<rect x="1246" y="595" width="3" height="1" fill="#c0c0c0"/>
<rect x="1252" y="595" width="3" height="1" fill="#c0c0c0"/>
<rect x="1258" y="595" width="3" height="1" fill="#c0c0c0"/>
<rect x="1264" y="595" width="3" height="1" fill="#c0c0c0"/>
<rect x="1270" y="595" width="3" height="1" fill="#c0c0c0"/>
<rect x="1276" y="595" width="3" height="1" fill="#c0c0c0"/>
<rect x="1282" y="595" width="3" height="1" fill="#c0c0c0"/>
<rect x="1288" y="595" width="3" height="1" fill="#c0c0c0"/>
<rect x="1294" y="595" width="3" height="1" fill="#c0c0c0"/>
<rect x="1300" y="595" width="3" height="1" fill="#c0c0c0"/>
<rect x="1306" y="595" width="3" height="1" fill="#c0c0c0"/>
<rect x="1312" y="595" width="3" height="1" fill="#c0c0c0"/>
<rect x="1318" y="595" width="3" height="1" fill="#c0c0c0"/>
<rect x="1324" y="595" width="3" height="1" fill="#c0c0c0"/>
<rect x="1330" y="595" width="3" height="1" fill="#c0c0c0"/>
<rect x="1336" y="595" width="3" height="1" fill="#c0c0c0"/>
<rect x="1342" y="595" width="3" height="1" fill="#c0c0c0"/>
<rect x="1348" y="595" width="3" height="1" fill="#c0c0c0"/>
<rect x="1354" y="595" width="3" height="1" fill="#c0c0c0"/>
<rect x="1360" y="595" width="3" height="1" fill="#c0c0c0"/>
<rect x="1366" y="595" width="3" height="1" fill="#c0c0c0"/>
<rect x="1372" y="595" width="3" height="1" fill="#c0c0c0"/>
<rect x="1378" y="595" width="3" height="1" fill="#c0c0c0"/>
<rect x="1384" y="595" width="3" height="1" fill="#c0c0c0"/>
<rect x="1390" y="595" width="3" height="1" fill="#c0c0c0"/>
<rect x="1396" y="595" width="3" height="1" fill="#c0c0c0"/>
<rect x="1402" y="595" width="3" height="1" fill="#c0c0c0"/>
<rect x="1408" y="595" width="3" height="1" fill="#c0c0c0"/>
<rect x="1414" y="595" width="3" height="1" fill="#c0c0c0"/>
<rect x="1420" y="595" width="3" height="1" fill="#c0c0c0"/>
<rect x="1426" y="595" width="3" height="1" fill="#c0c0c0"/>
<rect x="1432" y="595" width="3" height="1" fill="#c0c0c0"/>
<rect x="1438" y="595" width="3" height="1" fill="#c0c0c0"/>
<rect x="1444" y="595" width="3" height="1" fill="#c0c0c0"/>
<rect x="1450" y="595" width="3" height="1" fill="#c0c0c0"/>
<rect x="1456" y="595" width="3" height="1" fill="#c0c0c0"/>
<rect x="1462" y="595" width="3" height="1" fill="#c0c0c0"/>
<rect x="1468" y="595" width="3" height="1" fill="#c0c0c0"/>
<rect x="1474" y="595" width="3" height="1" fill="#c0c0c0"/>
<rect x="1480" y="595" width="3" height="1" fill="#c0c0c0"/>
<rect x="1486" y="595" width="3" height="1" fill="#c0c0c0"/>
<rect x="1492" y="595" width="3" height="1" fill="#c0c0c0"/>
<rect x="1498" y="595" width="3" height="1" fill="#c0c0c0"/>
<rect x="1504" y="595" width="3" height="1" fill="#c0c0c0"/>
<rect x="1510" y="595" width="3" height="1" fill="#c0c0c0"/>
<rect x="1516" y="595" width="3" height="1" fill="#c0c0c0"/>
<rect x="1522" y="595" width="3" height="1" fill="#c0c0c0"/>
<rect x="1528" y="595" width="3" height="1" fill="#c0c0c0"/>
<rect x="1534" y="595" width="3" height="1" fill="#c0c0c0"/>
<rect x="1540" y="595" width="3" height="1" fill="#c0c0c0"/>
<rect x="1546" y="595" width="3" height="1" fill="#c0c0c0"/>
<rect x="1552" y="595" width="3" height="1" fill="#c0c0c0"/>
<rect x="1558" y="595" width="3" height="1" fill="#c0c0c0"/>
<rect x="1564" y="595" width="3" height="1" fill="#c0c0c0"/>
<rect x="1570" y="595" width="3" height="1" fill="#c0c0c0"/>
<rect x="1576" y="595" width="3" height="1" fill="#c0c0c0"/>
<rect x="1582" y="595" width="3" height="1" fill="#c0c0c0"/>
<rect x="1588" y="595" width="3" height="1" fill="#c0c0c0"/>
<polyline points="3.5,571.6 7.5,567.6 11.5,567.0 15.5,567.4 19.5,572.6 23.5,579.5 27.5,573.6 31.5,574.1 35.5,572.6 39.5,569.5 43.5,570.1 47.5,567.2 51.5,573.5 55.5,572.6 59.5,572.2 63.5,570.1 67.5,569.6 71.5,566.6 75.5,570.8 79.5,570.3 83.5,573.2 87.5,577.1 91.5,579.9 95.5,574.5 99.5,572.0 103.5,573.6 107.5,576.1 111.5,566.7 115.5,573.5 119.5,569.2 123.5,569.5 127.5,571.5 131.5,573.5 135.5,573.5 139.5,575.0 143.5,573.3 147.5,572.9 151.5,570.7 155.5,569.5 159.5,570.8 163.5,568.7 167.5,574.4 171.5,588.2 175.5,589.6 179.5,590.0 183.5,587.1 187.5,582.4 191.5,579.2 195.5,576.4 199.5,573.6 203.5,573.0 207.5,571.0 211.5,575.7 215.5,581.0 219.5,586.9 223.5,588.3 227.5,586.8 231.5,586.1 235.5,575.7 239.5,575.3 243.5,572.0 247.5,569.2 251.5,568.0 255.5,574.2 259.5,574.8 263.5,582.7 267.5,584.2 271.5,581.7 275.5,581.2 279.5,584.7 283.5,580.2 287.5,576.2 291.5,578.4 295.5,571.0 299.5,569.1 303.5,569.6 307.5,567.6 311.5,566.6 315.5,568.5 319.5,566.9 323.5,566.2 327.5,580.6 331.5,588.9 335.5,584.6 339.5,585.4 343.5,580.9 347.5,582.4 351.5,584.7 355.5,587.5 359.5,586.8 363.5,585.8 367.5,591.0 371.5,587.2 375.5,587.9 379.5,593.0 383.5,589.3 387.5,592.9 391.5,586.2 395.5,584.3 399.5,585.2 403.5,587.6 407.5,588.7 411.5,585.3 415.5,591.6 419.5,594.2 423.5,597.8 427.5,598.4 431.5,599.0 435.5,595.0 439.5,591.8 443.5,588.7 447.5,592.9 451.5,586.6 455.5,588.7 459.5,583.4 463.5,582.9 467.5,584.4 471.5,586.6 475.5,589.7 479.5,593.6 483.5,594.3 487.5,586.4 491.5,586.8 495.5,582.8 499.5,585.9 503.5,581.5 507.5,582.5 511.5,580.0 515.5,580.6 519.5,581.7 523.5,574.3 527.5,572.6 531.5,583.3 535.5,587.9 539.5,589.3 543.5,584.0 547.5,578.8 551.5,574.3 555.5,572.1 559.5,570.4 563.5,569.6 567.5,569.6 571.5,569.6 575.5,571.0 579.5,568.2 583.5,564.2 587.5,563.8 591.5,563.8 595.5,565.6 599.5,562.6 603.5,565.2 607.5,574.6 611.5,575.7 615.5,575.6 619.5,578.1 623.5,576.4 627.5,588.8 631.5,591.5 635.5,594.7 639.5,599.6 643.5,602.5 647.5,602.6 651.5,605.3 655.5,610.4 659.5,610.8 663.5,612.4 667.5,606.9 671.5,599.0 675.5,581.7 679.5,582.0 683.5,580.2 687.5,586.4 691.5,573.4 695.5,569.0 699.5,563.9 703.5,563.1 707.5,561.9 711.5,567.3 715.5,568.5 719.5,571.0 723.5,580.0 727.5,584.3 731.5,585.6 735.5,580.6 739.5,579.3 743.5,576.5 747.5,573.7 751.5,571.0 755.5,572.3 759.5,571.8 763.5,576.5 767.5,576.0 771.5,579.6 775.5,580.5 779.5,579.7 783.5,578.5 787.5,583.6 791.5,579.9 795.5,576.4 799.5,578.9 803.5,577.8 807.5,578.1 811.5,576.1 815.5,574.4 819.5,572.8 823.5,571.1 827.5,571.3 831.5,570.6 835.5,571.6 839.5,571.6 843.5,581.2 847.5,587.8 851.5,585.8 855.5,581.9 859.5,574.5 863.5,572.5 867.5,572.2 871.5,576.4 875.5,576.7 879.5,575.1 883.5,580.0 887.5,577.3 891.5,574.6 895.5,575.2 899.5,575.8 903.5,578.3 907.5,575.0 911.5,584.2 915.5,577.9 919.5,575.7 923.5,575.0 927.5,577.5 931.5,581.9 935.5,578.6 939.5,584.1 943.5,586.4 947.5,586.3 951.5,586.8 955.5,585.1 959.5,586.1 963.5,591.2 967.5,582.8 971.5,583.0 975.5,587.3 979.5,594.4 983.5,596.7 987.5,600.6 991.5,585.0 995.5,582.5 999.5,585.4 1003.5,586.0 1007.5,584.2 1011.5,584.7 1015.5,583.0 1019.5,584.0 1023.5,587.8 1027.5,589.9 1031.5,585.7 1035.5,583.8 1039.5,584.8 1043.5,585.0 1047.5,581.2 1051.5,585.1 1055.5,586.0 1059.5,585.8 1063.5,586.4 1067.5,586.7 1071.5,590.2 1075.5,590.9 1079.5,593.9 1083.5,590.4 1087.5,590.9 1091.5,586.4 1095.5,587.0 1099.5,590.4 1103.5,580.4 1107.5,581.9 1111.5,586.7 1115.5,587.5 1119.5,586.3 1123.5,591.9 1127.5,596.4 1131.5,599.2 1135.5,600.9 1139.5,600.7 1143.5,601.9 1147.5,603.7 1151.5,605.4 1155.5,606.5 1159.5,606.8 1163.5,601.5 1167.5,590.9 1171.5,594.3 1175.5,600.6 1179.5,593.4 1183.5,588.6 1187.5,589.5 1191.5,586.2 1195.5,584.9 1199.5,589.6 1203.5,590.6 1207.5,591.2 1211.5,590.0 1215.5,593.3 1219.5,595.5 1223.5,583.6 1227.5,586.3 1231.5,580.9 1235.5,581.8 1239.5,583.0 1243.5,585.1 1247.5,585.4 1251.5,586.0 1255.5,589.5 1259.5,588.3 1263.5,591.6 1267.5,587.2" fill="none" stroke="#0a80ff" stroke-width="1"/>
<rect x="1596" y="532" width="2" height="1" fill="#000"/>
<rect x="1596" y="559" width="2" height="1" fill="#000"/>
<rect x="1596" y="595" width="2" height="1" fill="#000"/>
<rect x="1596" y="622" width="2" height="1" fill="#000"/>
<rect x="3" y="657" width="1" height="3" fill="#c0c0c0"/>
<rect x="7" y="656" width="1" height="1" fill="#c0c0c0"/>
<rect x="11" y="652" width="1" height="5" fill="#c0c0c0"/>
<rect x="15" y="650" width="1" height="7" fill="#c0c0c0"/>
<rect x="19" y="649" width="1" height="8" fill="#c0c0c0"/>
<rect x="23" y="651" width="1" height="6" fill="#c0c0c0"/>
<rect x="27" y="650" width="1" height="7" fill="#c0c0c0"/>
<rect x="31" y="650" width="1" height="7" fill="#c0c0c0"/>
<rect x="35" y="650" width="1" height="7" fill="#c0c0c0"/>
<rect x="39" y="648" width="1" height="9" fill="#c0c0c0"/>
<rect x="43" y="647" width="1" height="10" fill="#c0c0c0"/>
<rect x="47" y="645" width="1" height="12" fill="#c0c0c0"/>
<rect x="51" y="645" width="1" height="12" fill="#c0c0c0"/>
<rect x="55" y="645" width="1" height="12" fill="#c0c0c0"/>
<rect x="59" y="646" width="1" height="11" fill="#c0c0c0"/>
<rect x="63" y="645" width="1" height="12" fill="#c0c0c0"/>
<rect x="67" y="645" width="1" height="12" fill="#c0c0c0"/>
<rect x="71" y="643" width="1" height="14" fill="#c0c0c0"/>
<rect x="75" y="644" width="1" height="13" fill="#c0c0c0"/>
<rect x="79" y="644" width="1" height="13" fill="#c0c0c0"/>
<rect x="83" y="645" width="1" height="12" fill="#c0c0c0"/>
<rect x="87" y="646" width="1" height="11" fill="#c0c0c0"/>
<rect x="91" y="649" width="1" height="8" fill="#c0c0c0"/>
<rect x="95" y="649" width="1" height="8" fill="#c0c0c0"/>
<rect x="99" y="649" width="1" height="8" fill="#c0c0c0"/>
<rect x="103" y="649" width="1" height="8" fill="#c0c0c0"/>
<rect x="107" y="650" width="1" height="7" fill="#c0c0c0"/>
<rect x="111" y="648" width="1" height="9" fill="#c0c0c0"/>
<rect x="115" y="648" width="1" height="9" fill="#c0c0c0"/>
<rect x="119" y="646" width="1" height="11" fill="#c0c0c0"/>
<rect x="123" y="645" width="1" height="12" fill="#c0c0c0"/>
<rect x="127" y="645" width="1" height="12" fill="#c0c0c0"/>
<rect x="131" y="646" width="1" height="11" fill="#c0c0c0"/>
<rect x="135" y="646" width="1" height="11" fill="#c0c0c0"/>
<rect x="139" y="647" width="1" height="10" fill="#c0c0c0"/>
<rect x="143" y="648" width="1" height="9" fill="#c0c0c0"/>
<rect x="147" y="648" width="1" height="9" fill="#c0c0c0"/>
<rect x="151" y="648" width="1" height="9" fill="#c0c0c0"/>
<rect x="155" y="647" width="1" height="10" fill="#c0c0c0"/>
<rect x="159" y="647" width="1" height="10" fill="#c0c0c0"/>
<rect x="163" y="647" width="1" height="10" fill="#c0c0c0"/>
<rect x="167" y="648" width="1" height="9" fill="#c0c0c0"/>
<rect x="171" y="652" width="1" height="5" fill="#c0c0c0"/>
<rect x="175" y="656" width="1" height="1" fill="#c0c0c0"/>
<rect x="179" y="657" width="1" height="3" fill="#c0c0c0"/>
<rect x="183" y="657" width="1" height="5" fill="#c0c0c0"/>
<rect x="187" y="657" width="1" height="5" fill="#c0c0c0"/>
<rect x="191" y="657" width="1" height="5" fill="#c0c0c0"/>
<rect x="195" y="657" width="1" height="4" fill="#c0c0c0"/>
<rect x="199" y="657" width="1" height="2" fill="#c0c0c0"/>
<rect x="203" y="657" width="1" height="1" fill="#c0c0c0"/>
<rect x="207" y="656" width="1" height="1" fill="#c0c0c0"/>
<rect x="211" y="656" width="1" height="1" fill="#c0c0c0"/>
<rect x="219" y="657" width="1" height="2" fill="#c0c0c0"/>
<rect x="223" y="657" width="1" height="5" fill="#c0c0c0"/>
<rect x="227" y="657" width="1" height="6" fill="#c0c0c0"/>
<rect x="231" y="657" width="1" height="7" fill="#c0c0c0"/>
<rect x="235" y="657" width="1" height="6" fill="#c0c0c0"/>
<rect x="239" y="657" width="1" height="4" fill="#c0c0c0"/>
<rect x="243" y="657" width="1" height="2" fill="#c0c0c0"/>
<rect x="247" y="656" width="1" height="1" fill="#c0c0c0"/>
<rect x="251" y="654" width="1" height="3" fill="#c0c0c0"/>
<rect x="255" y="654" width="1" height="3" fill="#c0c0c0"/>
<rect x="259" y="654" width="1" height="3" fill="#c0c0c0"/>
<rect x="263" y="655" width="1" height="2" fill="#c0c0c0"/>
<rect x="271" y="657" width="1" height="1" fill="#c0c0c0"/>
<rect x="275" y="657" width="1" height="2" fill="#c0c0c0"/>
<rect x="279" y="657" width="1" height="3" fill="#c0c0c0"/>
<rect x="283" y="657" width="1" height="3" fill="#c0c0c0"/>
<rect x="287" y="657" width="1" height="3" fill="#c0c0c0"/>
<rect x="291" y="657" width="1" height="2" fill="#c0c0c0"/>
<rect x="299" y="655" width="1" height="2" fill="#c0c0c0"/>
<rect x="303" y="653" width="1" height="4" fill="#c0c0c0"/>
<rect x="307" y="651" width="1" height="6" fill="#c0c0c0"/>
<rect x="311" y="649" width="1" height="8" fill="#c0c0c0"/>
<rect x="315" y="649" width="1" height="8" fill="#c0c0c0"/>
<rect x="319" y="648" width="1" height="9" fill="#c0c0c0"/>
<rect x="323" y="647" width="1" height="10" fill="#c0c0c0"/>
<rect x="327" y="649" width="1" height="8" fill="#c0c0c0"/>
<rect x="331" y="654" width="1" height="3" fill="#c0c0c0"/>
<rect x="335" y="656" width="1" height="1" fill="#c0c0c0"/>
<rect x="339" y="657" width="1" height="2" fill="#c0c0c0"/>
<rect x="343" y="657" width="1" height="2" fill="#c0c0c0"/>
<rect x="347" y="657" width="1" height="3" fill="#c0c0c0"/>
<rect x="351" y="657" width="1" height="5" fill="#c0c0c0"/>
<rect x="355" y="657" width="1" height="7" fill="#c0c0c0"/>
<rect x="359" y="657" width="1" height="8" fill="#c0c0c0"/>
<rect x="363" y="657" width="1" height="9" fill="#c0c0c0"/>
<rect x="367" y="657" width="1" height="11" fill="#c0c0c0"/>
<rect x="371" y="657" width="1" height="12" fill="#c0c0c0"/>
<rect x="375" y="657" width="1" height="12" fill="#c0c0c0"/>
<rect x="379" y="657" width="1" height="15" fill="#c0c0c0"/>
<rect x="383" y="657" width="1" height="16" fill="#c0c0c0"/>
<rect x="387" y="657" width="1" height="17" fill="#c0c0c0"/>
<rect x="391" y="657" width="1" height="17" fill="#c0c0c0"/>
<rect x="395" y="657" width="1" height="16" fill="#c0c0c0"/>
<rect x="399" y="657" width="1" height="16" fill="#c0c0c0"/>
<rect x="403" y="657" width="1" height="16" fill="#c0c0c0"/>
<rect x="407" y="657" width="1" height="16" fill="#c0c0c0"/>
<rect x="411" y="657" width="1" height="16" fill="#c0c0c0"/>
<rect x="415" y="657" width="1" height="17" fill="#c0c0c0"/>
<rect x="419" y="657" width="1" height="19" fill="#c0c0c0"/>
<rect x="423" y="657" width="1" height="22" fill="#c0c0c0"/>
<rect x="427" y="657" width="1" height="25" fill="#c0c0c0"/>
<rect x="431" y="657" width="1" height="27" fill="#c0c0c0"/>
<rect x="435" y="657" width="1" height="27" fill="#c0c0c0"/>
<rect x="439" y="657" width="1" height="27" fill="#c0c0c0"/>
<rect x="443" y="657" width="1" height="25" fill="#c0c0c0"/>
<rect x="447" y="657" width="1" height="26" fill="#c0c0c0"/>
<rect x="451" y="657" width="1" height="24" fill="#c0c0c0"/>
<rect x="455" y="657" width="1" height="24" fill="#c0c0c0"/>
<rect x="459" y="657" width="1" height="21" fill="#c0c0c0"/>
<rect x="463" y="657" width="1" height="19" fill="#c0c0c0"/>
<rect x="467" y="657" width="1" height="18" fill="#c0c0c0"/>
<rect x="471" y="657" width="1" height="18" fill="#c0c0c0"/>
<rect x="475" y="657" width="1" height="18" fill="#c0c0c0"/>
<rect x="479" y="657" width="1" height="20" fill="#c0c0c0"/>
<rect x="483" y="657" width="1" height="21" fill="#c0c0c0"/>
<rect x="487" y="657" width="1" height="20" fill="#c0c0c0"/>
<rect x="491" y="657" width="1" height="19" fill="#c0c0c0"/>
<rect x="495" y="657" width="1" height="18" fill="#c0c0c0"/>
<rect x="499" y="657" width="1" height="17" fill="#c0c0c0"/>
<rect x="503" y="657" width="1" height="15" fill="#c0c0c0"/>
<rect x="507" y="657" width="1" height="14" fill="#c0c0c0"/>
<rect x="511" y="657" width="1" height="12" fill="#c0c0c0"/>
<rect x="515" y="657" width="1" height="11" fill="#c0c0c0"/>
<rect x="519" y="657" width="1" height="10" fill="#c0c0c0"/>
<rect x="523" y="657" width="1" height="8" fill="#c0c0c0"/>
<rect x="527" y="657" width="1" height="5" fill="#c0c0c0"/>
<rect x="531" y="657" width="1" height="6" fill="#c0c0c0"/>
<rect x="535" y="657" width="1" height="8" fill="#c0c0c0"/>
<rect x="539" y="657" width="1" height="10" fill="#c0c0c0"/>
<rect x="543" y="657" width="1" height="10" fill="#c0c0c0"/>
<rect x="547" y="657" width="1" height="9" fill="#c0c0c0"/>
<rect x="551" y="657" width="1" height="6" fill="#c0c0c0"/>
<rect x="555" y="657" width="1" height="4" fill="#c0c0c0"/>
<rect x="559" y="657" width="1" height="1" fill="#c0c0c0"/>
<rect x="563" y="655" width="1" height="2" fill="#c0c0c0"/>
<rect x="567" y="653" width="1" height="4" fill="#c0c0c0"/>
<rect x="571" y="652" width="1" height="5" fill="#c0c0c0"/>
<rect x="575" y="651" width="1" height="6" fill="#c0c0c0"/>
<rect x="579" y="650" width="1" height="7" fill="#c0c0c0"/>
<rect x="583" y="647" width="1" height="10" fill="#c0c0c0"/>
<rect x="587" y="645" width="1" height="12" fill="#c0c0c0"/>
<rect x="591" y="644" width="1" height="13" fill="#c0c0c0"/>
<rect x="595" y="644" width="1" height="13" fill="#c0c0c0"/>
<rect x="599" y="642" width="1" height="15" fill="#c0c0c0"/>
<rect x="603" y="642" width="1" height="15" fill="#c0c0c0"/>
<rect x="607" y="644" width="1" height="13" fill="#c0c0c0"/>
<rect x="611" y="645" width="1" height="12" fill="#c0c0c0"/>
<rect x="615" y="647" width="1" height="10" fill="#c0c0c0"/>
<rect x="619" y="648" width="1" height="9" fill="#c0c0c0"/>
<rect x="623" y="650" width="1" height="7" fill="#c0c0c0"/>
<rect x="627" y="653" width="1" height="4" fill="#c0c0c0"/>
<rect x="635" y="657" width="1" height="5" fill="#c0c0c0"/>
<rect x="639" y="657" width="1" height="10" fill="#c0c0c0"/>
<rect x="643" y="657" width="1" height="16" fill="#c0c0c0"/>
<rect x="647" y="657" width="1" height="21" fill="#c0c0c0"/>
<rect x="651" y="657" width="1" height="26" fill="#c0c0c0"/>
<rect x="655" y="657" width="1" height="35" fill="#c0c0c0"/>
<rect x="659" y="657" width="1" height="43" fill="#c0c0c0"/>
<rect x="663" y="657" width="1" height="51" fill="#c0c0c0"/>
<rect x="667" y="657" width="1" height="55" fill="#c0c0c0"/>
<rect x="671" y="657" width="1" height="56" fill="#c0c0c0"/>
<rect x="675" y="657" width="1" height="49" fill="#c0c0c0"/>
<rect x="679" y="657" width="1" height="43" fill="#c0c0c0"/>
<rect x="683" y="657" width="1" height="38" fill="#c0c0c0"/>
<rect x="687" y="657" width="1" height="36" fill="#c0c0c0"/>
<rect x="691" y="657" width="1" height="28" fill="#c0c0c0"/>
<rect x="695" y="657" width="1" height="17" fill="#c0c0c0"/>
<rect x="699" y="657" width="1" height="4" fill="#c0c0c0"/>
<rect x="703" y="650" width="1" height="7" fill="#c0c0c0"/>
<rect x="707" y="640" width="1" height="17" fill="#c0c0c0"/>
<rect x="711" y="635" width="1" height="22" fill="#c0c0c0"/>
<rect x="715" y="632" width="1" height="25" fill="#c0c0c0"/>
<rect x="719" y="631" width="1" height="26" fill="#c0c0c0"/>
<rect x="723" y="637" width="1" height="20" fill="#c0c0c0"/>
<rect x="727" y="645" width="1" height="12" fill="#c0c0c0"/>
<rect x="731" y="652" width="1" height="5" fill="#c0c0c0"/>
<rect x="735" y="655" width="1" height="2" fill="#c0c0c0"/>
<rect x="739" y="656" width="1" height="1" fill="#c0c0c0"/>
<rect x="743" y="656" width="1" height="1" fill="#c0c0c0"/>
<rect x="747" y="653" width="1" height="4" fill="#c0c0c0"/>
<rect x="751" y="649" width="1" height="8" fill="#c0c0c0"/>
<rect x="755" y="646" width="1" height="11" fill="#c0c0c0"/>
<rect x="759" y="644" width="1" height="13" fill="#c0c0c0"/>
<rect x="763" y="645" width="1" height="12" fill="#c0c0c0"/>
<rect x="767" y="646" width="1" height="11" fill="#c0c0c0"/>
<rect x="771" y="649" width="1" height="8" fill="#c0c0c0"/>
<rect x="775" y="652" width="1" height="5" fill="#c0c0c0"/>
<rect x="779" y="653" width="1" height="4" fill="#c0c0c0"/>
<rect x="783" y="654" width="1" height="3" fill="#c0c0c0"/>
<rect x="787" y="657" width="1" height="1" fill="#c0c0c0"/>
<rect x="791" y="657" width="1" height="2" fill="#c0c0c0"/>
<rect x="795" y="657" width="1" height="1" fill="#c0c0c0"/>
<rect x="799" y="657" width="1" height="1" fill="#c0c0c0"/>
<rect x="803" y="657" width="1" height="1" fill="#c0c0c0"/>
<rect x="807" y="657" width="1" height="1" fill="#c0c0c0"/>
<rect x="815" y="655" width="1" height="2" fill="#c0c0c0"/>
<rect x="819" y="653" width="1" height="4" fill="#c0c0c0"/>
<rect x="823" y="651" width="1" height="6" fill="#c0c0c0"/>
<rect x="827" y="649" width="1" height="8" fill="#c0c0c0"/>
<rect x="831" y="648" width="1" height="9" fill="#c0c0c0"/>
<rect x="835" y="647" width="1" height="10" fill="#c0c0c0"/>
<rect x="839" y="647" width="1" height="10" fill="#c0c0c0"/>
<rect x="843" y="650" width="1" height="7" fill="#c0c0c0"/>
<rect x="847" y="655" width="1" height="2" fill="#c0c0c0"/>
<rect x="851" y="657" width="1" height="1" fill="#c0c0c0"/>
<rect x="855" y="657" width="1" height="3" fill="#c0c0c0"/>
<rect x="859" y="657" width="1" height="1" fill="#c0c0c0"/>
<rect x="863" y="656" width="1" height="1" fill="#c0c0c0"/>
<rect x="867" y="654" width="1" height="3" fill="#c0c0c0"/>
<rect x="871" y="654" width="1" height="3" fill="#c0c0c0"/>
<rect x="875" y="654" width="1" height="3" fill="#c0c0c0"/>
<rect x="879" y="653" width="1" height="4" fill="#c0c0c0"/>
<rect x="883" y="655" width="1" height="2" fill="#c0c0c0"/>
<rect x="887" y="655" width="1" height="2" fill="#c0c0c0"/>
<rect x="891" y="654" width="1" height="3" fill="#c0c0c0"/>
<rect x="895" y="654" width="1" height="3" fill="#c0c0c0"/>
<rect x="899" y="653" width="1" height="4" fill="#c0c0c0"/>
<rect x="903" y="654" width="1" height="3" fill="#c0c0c0"/>
<rect x="907" y="654" width="1" height="3" fill="#c0c0c0"/>
<rect x="919" y="656" width="1" height="1" fill="#c0c0c0"/>
<rect x="923" y="655" width="1" height="2" fill="#c0c0c0"/>
<rect x="927" y="655" width="1" height="2" fill="#c0c0c0"/>
<rect x="939" y="657" width="1" height="3" fill="#c0c0c0"/>
<rect x="943" y="657" width="1" height="6" fill="#c0c0c0"/>
<rect x="947" y="657" width="1" height="8" fill="#c0c0c0"/>
<rect x="951" y="657" width="1" height="10" fill="#c0c0c0"/>
<rect x="955" y="657" width="1" height="11" fill="#c0c0c0"/>
<rect x="959" y="657" width="1" height="11" fill="#c0c0c0"/>
<rect x="963" y="657" width="1" height="14" fill="#c0c0c0"/>
<rect x="967" y="657" width="1" height="14" fill="#c0c0c0"/>
<rect x="971" y="657" width="1" height="13" fill="#c0c0c0"/>
<rect x="975" y="657" width="1" height="15" fill="#c0c0c0"/>
<rect x="979" y="657" width="1" height="19" fill="#c0c0c0"/>
<rect x="983" y="657" width="1" height="24" fill="#c0c0c0"/>
<rect x="987" y="657" width="1" height="30" fill="#c0c0c0"/>
<rect x="991" y="657" width="1" height="30" fill="#c0c0c0"/>
<rect x="995" y="657" width="1" height="27" fill="#c0c0c0"/>
<rect x="999" y="657" width="1" height="27" fill="#c0c0c0"/>
<rect x="1003" y="657" width="1" height="27" fill="#c0c0c0"/>
<rect x="1007" y="657" width="1" height="26" fill="#c0c0c0"/>
<rect x="1011" y="657" width="1" height="25" fill="#c0c0c0"/>
<rect x="1015" y="657" width="1" height="23" fill="#c0c0c0"/>
<rect x="1019" y="657" width="1" height="22" fill="#c0c0c0"/>
<rect x="1023" y="657" width="1" height="23" fill="#c0c0c0"/>
<rect x="1027" y="657" width="1" height="24" fill="#c0c0c0"/>
<rect x="1031" y="657" width="1" height="24" fill="#c0c0c0"/>
<rect x="1035" y="657" width="1" height="22" fill="#c0c0c0"/>
<rect x="1039" y="657" width="1" height="22" fill="#c0c0c0"/>
<rect x="1043" y="657" width="1" height="21" fill="#c0c0c0"/>
<rect x="1047" y="657" width="1" height="19" fill="#c0c0c0"/>
<rect x="1051" y="657" width="1" height="19" fill="#c0c0c0"/>
<rect x="1055" y="657" width="1" height="19" fill="#c0c0c0"/>
<rect x="1059" y="657" width="1" height="18" fill="#c0c0c0"/>
<rect x="1063" y="657" width="1" height="18" fill="#c0c0c0"/>
<rect x="1067" y="657" width="1" height="18" fill="#c0c0c0"/>
<rect x="1071" y="657" width="1" height="19" fill="#c0c0c0"/>
<rect x="1075" y="657" width="1" height="20" fill="#c0c0c0"/>
<rect x="1079" y="657" width="1" height="21" fill="#c0c0c0"/>
<rect x="1083" y="657" width="1" height="22" fill="#c0c0c0"/>
<rect x="1087" y="657" width="1" height="22" fill="#c0c0c0"/>
<rect x="1091" y="657" width="1" height="21" fill="#c0c0c0"/>
<rect x="1095" y="657" width="1" height="20" fill="#c0c0c0"/>
<rect x="1099" y="657" width="1" height="20" fill="#c0c0c0"/>
<rect x="1103" y="657" width="1" height="18" fill="#c0c0c0"/>
<rect x="1107" y="657" width="1" height="16" fill="#c0c0c0"/>
<rect x="1111" y="657" width="1" height="16" fill="#c0c0c0"/>
<rect x="1115" y="657" width="1" height="16" fill="#c0c0c0"/>
<rect x="1119" y="657" width="1" height="16" fill="#c0c0c0"/>
<rect x="1123" y="657" width="1" height="18" fill="#c0c0c0"/>
<rect x="1127" y="657" width="1" height="21" fill="#c0c0c0"/>
<rect x="1131" y="657" width="1" height="25" fill="#c0c0c0"/>
<rect x="1135" y="657" width="1" height="29" fill="#c0c0c0"/>
<rect x="1139" y="657" width="1" height="32" fill="#c0c0c0"/>
<rect x="1143" y="657" width="1" height="34" fill="#c0c0c0"/>
<rect x="1147" y="657" width="1" height="37" fill="#c0c0c0"/>
<rect x="1151" y="657" width="1" height="40" fill="#c0c0c0"/>
<rect x="1155" y="657" width="1" height="43" fill="#c0c0c0"/>
<rect x="1159" y="657" width="1" height="45" fill="#c0c0c0"/>
<rect x="1163" y="657" width="1" height="45" fill="#c0c0c0"/>
<rect x="1167" y="657" width="1" height="42" fill="#c0c0c0"/>
<rect x="1171" y="657" width="1" height="41" fill="#c0c0c0"/>
<rect x="1175" y="657" width="1" height="44" fill="#c0c0c0"/>
<rect x="1179" y="657" width="1" height="44" fill="#c0c0c0"/>
<rect x="1183" y="657" width="1" height="42" fill="#c0c0c0"/>
<rect x="1187" y="657" width="1" height="40" fill="#c0c0c0"/>
<rect x="1191" y="657" width="1" height="37" fill="#c0c0c0"/>
<rect x="1195" y="657" width="1" height="34" fill="#c0c0c0"/>
<rect x="1199" y="657" width="1" height="33" fill="#c0c0c0"/>
<rect x="1203" y="657" width="1" height="33" fill="#c0c0c0"/>
<rect x="1207" y="657" width="1" height="33" fill="#c0c0c0"/>
<rect x="1211" y="657" width="1" height="32" fill="#c0c0c0"/>
<rect x="1215" y="657" width="1" height="33" fill="#c0c0c0"/>
<rect x="1219" y="657" width="1" height="34" fill="#c0c0c0"/>
<rect x="1223" y="657" width="1" height="31" fill="#c0c0c0"/>
<rect x="1227" y="657" width="1" height="30" fill="#c0c0c0"/>
<rect x="1231" y="657" width="1" height="26" fill="#c0c0c0"/>
<rect x="1235" y="657" width="1" height="24" fill="#c0c0c0"/>
<rect x="1239" y="657" width="1" height="22" fill="#c0c0c0"/>
<rect x="1243" y="657" width="1" height="21" fill="#c0c0c0"/>
<rect x="1247" y="657" width="1" height="21" fill="#c0c0c0"/>
<rect x="1251" y="657" width="1" height="20" fill="#c0c0c0"/>
<rect x="1255" y="657" width="1" height="21" fill="#c0c0c0"/>
<rect x="1259" y="657" width="1" height="21" fill="#c0c0c0"/>
<rect x="1263" y="657" width="1" height="22" fill="#c0c0c0"/>
<rect x="1267" y="657" width="1" height="22" fill="#c0c0c0"/>
<polyline points="3.5,666.9 7.5,665.1 11.5,663.2 15.5,661.1 19.5,659.1 23.5,657.3 27.5,655.6 31.5,654.0 35.5,652.5 39.5,651.1 43.5,650.1 47.5,649.3 51.5,648.9 55.5,648.4 59.5,647.8 63.5,647.2 67.5,646.6 71.5,646.0 75.5,645.5 79.5,645.1 83.5,645.1 87.5,645.2 91.5,645.6 95.5,645.9 99.5,646.3 103.5,646.8 107.5,647.5 111.5,648.0 115.5,648.4 119.5,648.6 123.5,648.5 127.5,648.1 131.5,647.7 135.5,647.5 139.5,647.3 143.5,647.1 147.5,647.1 151.5,647.1 155.5,647.3 159.5,647.5 163.5,647.7 167.5,648.0 171.5,648.7 175.5,649.7 179.5,651.0 183.5,652.5 187.5,654.1 191.5,655.7 195.5,657.2 199.5,658.6 203.5,659.7 207.5,660.1 211.5,660.0 215.5,659.6 219.5,659.4 223.5,659.3 227.5,659.5 231.5,659.9 235.5,660.2 239.5,660.6 243.5,660.9 247.5,661.0 251.5,660.7 255.5,660.1 259.5,659.2 263.5,658.3 267.5,657.5 271.5,657.1 275.5,656.8 279.5,657.0 283.5,657.4 287.5,658.0 291.5,658.6 295.5,659.0 299.5,659.0 303.5,658.5 307.5,657.7 311.5,656.6 315.5,655.3 319.5,653.9 323.5,652.5 327.5,651.3 331.5,650.9 335.5,651.1 339.5,651.7 343.5,652.6 347.5,653.8 351.5,655.2 355.5,657.0 359.5,659.1 363.5,660.9 367.5,662.5 371.5,663.9 375.5,665.1 379.5,666.5 383.5,667.9 387.5,669.3 391.5,670.4 395.5,671.4 399.5,672.1 403.5,672.7 407.5,673.2 411.5,673.6 415.5,673.8 419.5,674.2 423.5,674.8 427.5,675.6 431.5,676.8 435.5,678.1 439.5,679.3 443.5,680.3 447.5,681.5 451.5,682.3 455.5,682.7 459.5,682.6 463.5,682.1 467.5,681.1 471.5,680.0 475.5,679.0 479.5,678.4 483.5,677.8 487.5,677.4 491.5,676.9 495.5,676.5 499.5,676.2 503.5,675.8 507.5,675.5 511.5,674.8 515.5,673.9 519.5,672.7 523.5,671.3 527.5,669.8 531.5,668.5 535.5,667.5 539.5,666.9 543.5,666.5 547.5,666.1 551.5,665.6 555.5,664.9 559.5,664.1 563.5,663.3 567.5,662.3 571.5,660.8 575.5,659.0 579.5,657.0 583.5,654.9 587.5,652.9 591.5,651.1 595.5,649.5 599.5,648.1 603.5,646.9 607.5,646.0 611.5,645.4 615.5,645.1 619.5,645.2 623.5,645.6 627.5,646.7 631.5,648.2 635.5,650.4 639.5,653.2 643.5,656.5 647.5,660.1 651.5,664.1 655.5,669.0 659.5,674.6 663.5,680.6 667.5,686.7 671.5,692.3 675.5,696.6 679.5,699.6 683.5,701.4 687.5,702.6 691.5,701.7 695.5,698.8 699.5,693.6 703.5,686.7 707.5,678.6 711.5,670.7 715.5,663.1 719.5,656.0 723.5,649.8 727.5,645.3 731.5,642.9 735.5,642.3 739.5,643.1 743.5,644.8 747.5,646.9 751.5,648.7 755.5,650.4 759.5,651.2 763.5,651.2 767.5,650.5 771.5,649.8 775.5,649.2 779.5,649.0 783.5,649.2 787.5,650.2 791.5,651.6 795.5,653.1 799.5,654.6 803.5,655.9 807.5,657.0 811.5,657.6 815.5,657.8 819.5,657.7 823.5,657.0 827.5,655.9 831.5,654.8 835.5,653.6 839.5,652.3 843.5,651.4 847.5,651.2 851.5,651.5 855.5,652.2 859.5,653.0 863.5,653.6 867.5,654.2 871.5,654.9 875.5,655.7 879.5,656.1 883.5,656.1 887.5,655.7 891.5,655.0 895.5,654.5 899.5,654.3 903.5,654.4 907.5,654.4 911.5,654.7 915.5,655.1 919.5,655.2 923.5,655.3 927.5,655.4 931.5,655.8 935.5,656.3 939.5,656.9 943.5,657.9 947.5,658.8 951.5,659.9 955.5,661.2 959.5,662.7 963.5,664.4 967.5,665.9 971.5,667.4 975.5,668.7 979.5,670.2 983.5,672.0 987.5,674.3 991.5,676.4 995.5,678.2 999.5,679.6 1003.5,681.1 1007.5,682.5 1011.5,683.6 1015.5,684.1 1019.5,683.9 1023.5,683.0 1027.5,682.4 1031.5,682.0 1035.5,681.5 1039.5,680.9 1043.5,680.4 1047.5,679.7 1051.5,679.2 1055.5,678.8 1059.5,678.3 1063.5,677.6 1067.5,676.9 1071.5,676.5 1075.5,676.3 1079.5,676.3 1083.5,676.6 1087.5,677.0 1091.5,677.2 1095.5,677.4 1099.5,677.6 1103.5,677.6 1107.5,677.3 1111.5,676.9 1115.5,676.4 1119.5,675.8 1123.5,675.3 1127.5,675.4 1131.5,676.0 1135.5,677.0 1139.5,678.5 1143.5,680.6 1147.5,682.9 1151.5,685.5 1155.5,688.5 1159.5,691.5 1163.5,694.2 1167.5,696.1 1171.5,697.5 1175.5,698.9 1179.5,700.0 1183.5,700.5 1187.5,700.5 1191.5,699.8 1195.5,698.6 1199.5,697.3 1203.5,696.3 1207.5,695.3 1211.5,693.9 1215.5,692.7 1219.5,691.8 1223.5,690.8 1227.5,689.9 1231.5,689.1 1235.5,688.0 1239.5,686.8 1243.5,685.5 1247.5,684.2 1251.5,682.8 1255.5,681.4 1259.5,680.3 1263.5,679.5 1267.5,679.1" fill="none" stroke="#ff0000" stroke-width="1" stroke-dasharray="3,3"/>
<rect x="1596" y="627" width="2" height="1" fill="#000"/>
<rect x="1596" y="657" width="2" height="1" fill="#000"/>
<rect x="1596" y="715" width="2" height="1" fill="#000"/>
<rect x="3" y="718" width="1" height="3" fill="#000"/>
<rect x="67" y="718" width="1" height="3" fill="#000"/>
<rect x="131" y="718" width="1" height="3" fill="#000"/>
<rect x="195" y="718" width="1" height="3" fill="#000"/>
<rect x="259" y="718" width="1" height="3" fill="#000"/>
<rect x="323" y="718" width="1" height="3" fill="#000"/>
<rect x="387" y="718" width="1" height="3" fill="#000"/>
<rect x="451" y="718" width="1" height="3" fill="#000"/>
<rect x="515" y="718" width="1" height="3" fill="#000"/>
<rect x="579" y="718" width="1" height="3" fill="#000"/>
<rect x="643" y="718" width="1" height="3" fill="#000"/>
<rect x="707" y="718" width="1" height="3" fill="#000"/>
<rect x="771" y="718" width="1" height="3" fill="#000"/>
<rect x="835" y="718" width="1" height="3" fill="#000"/>
<rect x="899" y="718" width="1" height="3" fill="#000"/>
<rect x="963" y="718" width="1" height="3" fill="#000"/>
<rect x="1027" y="718" width="1" height="3" fill="#000"/>
<rect x="1091" y="718" width="1" height="3" fill="#000"/>
<rect x="1155" y="718" width="1" height="3" fill="#000"/>
<rect x="1219" y="718" width="1" height="3" fill="#000"/>
<rect x="0" y="738" width="1638" height="1" fill="#e3e3e3"/>
<rect x="0" y="740" width="1638" height="1" fill="#000"/>
<rect x="0" y="741" width="1638" height="1" fill="#ffffff"/>
<rect x="0" y="742" width="1638" height="18" fill="#f0f0f0"/>
<rect x="0" y="760" width="1638" height="2" fill="#fcfcfc"/>
<rect x="0" y="762" width="1638" height="2" fill="#f0f0f0"/>
<rect x="0" y="764" width="1638" height="1" fill="#a0a0a0"/>
<rect x="108" y="739" width="100" height="20" fill="#ffffff"/>
<rect x="108" y="740" width="1" height="19" fill="#000"/>
<rect x="207" y="740" width="1" height="19" fill="#000"/>
<rect x="108" y="758" width="100" height="1" fill="#000"/>
<rect x="312" y="743" width="1" height="14" fill="#555"/>
<rect x="416" y="743" width="1" height="14" fill="#555"/>
<rect x="521" y="743" width="1" height="14" fill="#555"/>
<rect x="624" y="743" width="1" height="14" fill="#555"/>
<rect x="716" y="743" width="1" height="14" fill="#555"/>
<rect x="808" y="743" width="1" height="14" fill="#555"/>
<rect x="881" y="743" width="1" height="14" fill="#555"/>
<rect x="960" y="743" width="1" height="14" fill="#555"/>
<rect x="1040" y="743" width="1" height="14" fill="#555"/>
<rect x="1120" y="743" width="1" height="14" fill="#555"/>
<rect x="1196" y="743" width="1" height="14" fill="#555"/>
<rect x="1269" y="743" width="1" height="14" fill="#555"/>
<rect x="1353" y="743" width="1" height="14" fill="#555"/>
<rect x="1433" y="743" width="1" height="14" fill="#555"/>
<rect x="1533" y="743" width="1" height="14" fill="#555"/>
<rect x="1604" y="743" width="1" height="14" fill="#555"/>
<path d="M1614.5 746 L1611 749.2 L1614.5 752.5 Z" fill="#909090"/>
<path d="M1630 746 L1633.8 749.2 L1630 752.5 Z" fill="#000"/>
<text x="42.12" y="12.00" font-size="9.78" fill="#4a4a4a" stroke="#4a4a4a" stroke-width="0" textLength="13.19" lengthAdjust="spacingAndGlyphs">M1</text>
<text x="69.70" y="12.00" font-size="9.78" fill="#4a4a4a" stroke="#4a4a4a" stroke-width="0" textLength="13.91" lengthAdjust="spacingAndGlyphs">M5</text>
<text x="95.74" y="12.00" font-size="9.78" fill="#4a4a4a" stroke="#4a4a4a" stroke-width="0" textLength="19.30" lengthAdjust="spacingAndGlyphs">M15</text>
<text x="123.70" y="12.00" font-size="9.78" fill="#4a4a4a" stroke="#4a4a4a" stroke-width="0" textLength="19.03" lengthAdjust="spacingAndGlyphs">M30</text>
<text x="154.70" y="12.00" font-size="9.78" fill="#4a4a4a" stroke="#4a4a4a" stroke-width="0" textLength="12.53" lengthAdjust="spacingAndGlyphs">H1</text>
<text x="181.70" y="12.00" font-size="9.78" fill="#4a4a4a" stroke="#4a4a4a" stroke-width="0" textLength="14.11" lengthAdjust="spacingAndGlyphs">H4</text>
<text x="210.74" y="12.00" font-size="9.78" fill="#4a4a4a" stroke="#4a4a4a" stroke-width="0" textLength="12.74" lengthAdjust="spacingAndGlyphs">D1</text>
<text x="239.00" y="12.00" font-size="9.78" fill="#4a4a4a" stroke="#4a4a4a" stroke-width="0" textLength="14.48" lengthAdjust="spacingAndGlyphs">W1</text>
<text x="264.70" y="12.00" font-size="9.78" fill="#4a4a4a" stroke="#4a4a4a" stroke-width="0" textLength="16.79" lengthAdjust="spacingAndGlyphs">MN</text>
<text x="17.28" y="36.00" font-size="9.78" fill="#000" stroke="#000" stroke-width="0.25" textLength="66.29" lengthAdjust="spacingAndGlyphs">USDCHF,Daily</text>
<text x="89.04" y="36.00" font-size="9.78" fill="#000" stroke="#000" stroke-width="0.25" textLength="141.27" lengthAdjust="spacingAndGlyphs">0.90111 0.90411 0.90085 0.90381</text>
<text x="1600.28" y="35.00" font-size="9.78" fill="#000" stroke="#000" stroke-width="0.25" textLength="33.07" lengthAdjust="spacingAndGlyphs">1.00660</text>
<text x="1601.08" y="68.00" font-size="9.78" fill="#000" stroke="#000" stroke-width="0.25" textLength="32.04" lengthAdjust="spacingAndGlyphs">0.99940</text>
<text x="1601.08" y="101.00" font-size="9.78" fill="#000" stroke="#000" stroke-width="0.25" textLength="32.04" lengthAdjust="spacingAndGlyphs">0.99220</text>
<text x="1601.08" y="134.00" font-size="9.78" fill="#000" stroke="#000" stroke-width="0.25" textLength="32.04" lengthAdjust="spacingAndGlyphs">0.98480</text>
<text x="1601.08" y="167.00" font-size="9.78" fill="#000" stroke="#000" stroke-width="0.25" textLength="32.04" lengthAdjust="spacingAndGlyphs">0.97760</text>
<text x="1601.08" y="200.00" font-size="9.78" fill="#000" stroke="#000" stroke-width="0.25" textLength="32.04" lengthAdjust="spacingAndGlyphs">0.97040</text>
<text x="1601.08" y="233.00" font-size="9.78" fill="#000" stroke="#000" stroke-width="0.25" textLength="32.04" lengthAdjust="spacingAndGlyphs">0.96320</text>
<text x="1601.08" y="266.00" font-size="9.78" fill="#000" stroke="#000" stroke-width="0.25" textLength="32.04" lengthAdjust="spacingAndGlyphs">0.95580</text>
<text x="1601.08" y="299.00" font-size="9.78" fill="#000" stroke="#000" stroke-width="0.25" textLength="32.04" lengthAdjust="spacingAndGlyphs">0.94860</text>
<text x="1601.08" y="332.00" font-size="9.78" fill="#000" stroke="#000" stroke-width="0.25" textLength="32.04" lengthAdjust="spacingAndGlyphs">0.94140</text>
<text x="1601.08" y="365.00" font-size="9.78" fill="#000" stroke="#000" stroke-width="0.25" textLength="32.04" lengthAdjust="spacingAndGlyphs">0.93400</text>
<text x="1601.08" y="398.00" font-size="9.78" fill="#000" stroke="#000" stroke-width="0.25" textLength="32.04" lengthAdjust="spacingAndGlyphs">0.92680</text>
<text x="1601.08" y="431.00" font-size="9.78" fill="#000" stroke="#000" stroke-width="0.25" textLength="32.04" lengthAdjust="spacingAndGlyphs">0.91960</text>
<text x="1601.08" y="464.00" font-size="9.78" fill="#000" stroke="#000" stroke-width="0.25" textLength="32.04" lengthAdjust="spacingAndGlyphs">0.91220</text>
<text x="1601.08" y="497.00" font-size="9.78" fill="#000" stroke="#000" stroke-width="0.25" textLength="32.04" lengthAdjust="spacingAndGlyphs">0.90500</text>
<text x="1601.08" y="530.00" font-size="9.78" fill="#000" stroke="#000" stroke-width="0.25" textLength="32.04" lengthAdjust="spacingAndGlyphs">0.89780</text>
<text x="6.28" y="544.00" font-size="9.78" fill="#000" stroke="#000" stroke-width="0.25" textLength="69.14" lengthAdjust="spacingAndGlyphs">RSI(14) 39.1106</text>
<text x="1598.66" y="542.00" font-size="9.78" fill="#000" stroke="#000" stroke-width="0.25" textLength="16.11" lengthAdjust="spacingAndGlyphs">100</text>
<text x="1598.58" y="563.30" font-size="9.71" fill="#000" stroke="#000" stroke-width="0.25" textLength="9.67" lengthAdjust="spacingAndGlyphs">70</text>
<text x="1597.78" y="598.60" font-size="9.44" fill="#000" stroke="#000" stroke-width="0.25" textLength="10.70" lengthAdjust="spacingAndGlyphs">30</text>
<text x="1598.58" y="620.00" font-size="9.78" fill="#000" stroke="#000" stroke-width="0.25" textLength="5.72" lengthAdjust="spacingAndGlyphs">0</text>
<text x="6.66" y="638.00" font-size="9.78" fill="#000" stroke="#000" stroke-width="0.25" textLength="154.10" lengthAdjust="spacingAndGlyphs">MACD(12,26,9) -0.004238 -0.004098</text>
<text x="1599.08" y="636.70" font-size="9.44" fill="#000" stroke="#000" stroke-width="0.25" textLength="38.58" lengthAdjust="spacingAndGlyphs">0.005818</text>
<text x="1599.08" y="660.60" font-size="9.44" fill="#000" stroke="#000" stroke-width="0.25" textLength="17.80" lengthAdjust="spacingAndGlyphs">0.00</text>
<text x="1599.08" y="715.50" font-size="9.93" fill="#000" stroke="#000" stroke-width="0.25" textLength="39.78" lengthAdjust="spacingAndGlyphs">-0.011514</text>
<text x="1.24" y="730.00" font-size="9.78" fill="#000" stroke="#000" stroke-width="0.25" textLength="54.08" lengthAdjust="spacingAndGlyphs">29 Aug 2019</text>
<text x="65.74" y="730.00" font-size="9.78" fill="#000" stroke="#000" stroke-width="0.25" textLength="52.53" lengthAdjust="spacingAndGlyphs">17 Sep 2019</text>
<text x="130.08" y="730.00" font-size="9.78" fill="#000" stroke="#000" stroke-width="0.25" textLength="46.37" lengthAdjust="spacingAndGlyphs">5 Oct 2019</text>
<text x="194.08" y="730.00" font-size="9.78" fill="#000" stroke="#000" stroke-width="0.25" textLength="51.09" lengthAdjust="spacingAndGlyphs">24 Oct 2019</text>
<text x="257.28" y="730.00" font-size="9.78" fill="#000" stroke="#000" stroke-width="0.25" textLength="53.17" lengthAdjust="spacingAndGlyphs">12 Nov 2019</text>
<text x="322.08" y="730.00" font-size="9.78" fill="#000" stroke="#000" stroke-width="0.25" textLength="53.17" lengthAdjust="spacingAndGlyphs">30 Nov 2019</text>
<text x="385.28" y="730.00" font-size="9.78" fill="#000" stroke="#000" stroke-width="0.25" textLength="53.17" lengthAdjust="spacingAndGlyphs">19 Dec 2019</text>
<text x="450.08" y="730.00" font-size="9.78" fill="#000" stroke="#000" stroke-width="0.25" textLength="45.45" lengthAdjust="spacingAndGlyphs">7 Jan 2020</text>
<text x="513.70" y="730.00" font-size="9.78" fill="#000" stroke="#000" stroke-width="0.25" textLength="50.27" lengthAdjust="spacingAndGlyphs">25 Jan 2020</text>
<text x="577.32" y="730.00" font-size="9.78" fill="#000" stroke="#000" stroke-width="0.25" textLength="52.42" lengthAdjust="spacingAndGlyphs">13 Feb 2020</text>
<text x="641.74" y="730.00" font-size="9.78" fill="#000" stroke="#000" stroke-width="0.25" textLength="47.63" lengthAdjust="spacingAndGlyphs">3 Mar 2020</text>
<text x="706.16" y="730.00" font-size="9.78" fill="#000" stroke="#000" stroke-width="0.25" textLength="51.80" lengthAdjust="spacingAndGlyphs">21 Mar 2020</text>
<text x="770.58" y="730.00" font-size="9.78" fill="#000" stroke="#000" stroke-width="0.25" textLength="45.81" lengthAdjust="spacingAndGlyphs">9 Apr 2020</text>
<text x="834.08" y="730.00" font-size="9.78" fill="#000" stroke="#000" stroke-width="0.25" textLength="50.88" lengthAdjust="spacingAndGlyphs">28 Apr 2020</text>
<text x="897.28" y="730.00" font-size="9.78" fill="#000" stroke="#000" stroke-width="0.25" textLength="54.20" lengthAdjust="spacingAndGlyphs">16 May 2020</text>
<text x="962.08" y="730.00" font-size="10.27" fill="#000" stroke="#000" stroke-width="0.25" textLength="46.39" lengthAdjust="spacingAndGlyphs">4 Jun 2020</text>
<text x="1026.08" y="730.00" font-size="9.78" fill="#000" stroke="#000" stroke-width="0.25" textLength="51.61" lengthAdjust="spacingAndGlyphs">23 Jun 2020</text>
<text x="1089.28" y="730.00" font-size="9.78" fill="#000" stroke="#000" stroke-width="0.25" textLength="47.79" lengthAdjust="spacingAndGlyphs">11 Jul 2020</text>
<text x="1154.08" y="730.00" font-size="9.78" fill="#000" stroke="#000" stroke-width="0.25" textLength="48.48" lengthAdjust="spacingAndGlyphs">30 Jul 2020</text>
<text x="1217.28" y="730.00" font-size="9.78" fill="#000" stroke="#000" stroke-width="0.25" textLength="52.66" lengthAdjust="spacingAndGlyphs">18 Aug 2020</text>
<text x="15.28" y="755.00" font-size="12.57" fill="#606060" stroke="#606060" stroke-width="0" textLength="80.79" lengthAdjust="spacingAndGlyphs">EURUSD,Daily</text>
<text x="117.70" y="755.00" font-size="12.57" fill="#000" stroke="#000" stroke-width="0" textLength="79.13" lengthAdjust="spacingAndGlyphs">USDCHF,Daily</text>
<text x="219.00" y="755.00" font-size="12.57" fill="#606060" stroke="#606060" stroke-width="0" textLength="82.46" lengthAdjust="spacingAndGlyphs">AUDUSD,Daily</text>
<text x="322.20" y="755.00" font-size="12.57" fill="#606060" stroke="#606060" stroke-width="0" textLength="81.62" lengthAdjust="spacingAndGlyphs">USDCAD,Daily</text>
<text x="425.20" y="755.00" font-size="12.57" fill="#606060" stroke="#606060" stroke-width="0" textLength="83.54" lengthAdjust="spacingAndGlyphs">USDCNH,Daily</text>
<text x="530.74" y="755.00" font-size="12.57" fill="#606060" stroke="#606060" stroke-width="0" textLength="81.62" lengthAdjust="spacingAndGlyphs">EURUSD,Daily</text>
<text x="635.12" y="755.00" font-size="12.57" fill="#606060" stroke="#606060" stroke-width="0" textLength="69.19" lengthAdjust="spacingAndGlyphs">GBPUSD,H4</text>
<text x="726.58" y="755.00" font-size="12.57" fill="#606060" stroke="#606060" stroke-width="0" textLength="69.25" lengthAdjust="spacingAndGlyphs">XAUUSD,H1</text>
<text x="818.20" y="755.00" font-size="12.57" fill="#606060" stroke="#606060" stroke-width="0" textLength="50.99" lengthAdjust="spacingAndGlyphs">HK50,H1</text>
<text x="889.36" y="755.00" font-size="12.57" fill="#606060" stroke="#606060" stroke-width="0" textLength="57.77" lengthAdjust="spacingAndGlyphs">UK100,H1</text>
<text x="970.20" y="755.00" font-size="12.57" fill="#606060" stroke="#606060" stroke-width="0" textLength="56.95" lengthAdjust="spacingAndGlyphs">UK100,H1</text>
<text x="1050.20" y="755.00" font-size="12.57" fill="#606060" stroke="#606060" stroke-width="0" textLength="57.67" lengthAdjust="spacingAndGlyphs">GER30,H1</text>
<text x="1129.28" y="755.00" font-size="12.57" fill="#606060" stroke="#606060" stroke-width="0" textLength="55.55" lengthAdjust="spacingAndGlyphs">FRA40,H1</text>
<text x="1205.32" y="755.00" font-size="12.57" fill="#606060" stroke="#606060" stroke-width="0" textLength="52.60" lengthAdjust="spacingAndGlyphs">USOil,H4</text>
<text x="1277.28" y="755.00" font-size="12.57" fill="#606060" stroke="#606060" stroke-width="0" textLength="63.97" lengthAdjust="spacingAndGlyphs">USDJPY,H1</text>
<text x="1360.86" y="755.00" font-size="12.57" fill="#606060" stroke="#606060" stroke-width="0" textLength="60.57" lengthAdjust="spacingAndGlyphs">DJ30,Daily</text>
<text x="1441.66" y="755.00" font-size="12.57" fill="#606060" stroke="#606060" stroke-width="0" textLength="79.82" lengthAdjust="spacingAndGlyphs">CHINA300,H1</text>
<text x="1541.74" y="755.00" font-size="12.57" fill="#606060" stroke="#606060" stroke-width="0" textLength="51.53" lengthAdjust="spacingAndGlyphs">USOil,H1</text>
<rect x="1597" y="249" width="41" height="11" fill="#ff0000"/>
<rect x="1597" y="308" width="41" height="11" fill="#ff0000"/>
<rect x="1597" y="372" width="41" height="11" fill="#00ff00"/>
<rect x="1597" y="432" width="41" height="11" fill="#0000ff"/>
<rect x="1597" y="509" width="41" height="11" fill="#0000ff"/>
<rect x="1597" y="493" width="41" height="11" fill="#000"/>
<text x="1601.08" y="258.00" font-size="9.78" fill="#fff" stroke="#fff" stroke-width="0.25" textLength="32.04" lengthAdjust="spacingAndGlyphs">0.95740</text>
<text x="1601.08" y="317.00" font-size="9.78" fill="#fff" stroke="#fff" stroke-width="0.25" textLength="32.04" lengthAdjust="spacingAndGlyphs">0.94436</text>
<text x="1601.08" y="381.00" font-size="9.78" fill="#fff" stroke="#fff" stroke-width="0.25" textLength="33.04" lengthAdjust="spacingAndGlyphs">0.93024</text>
<text x="1601.08" y="441.00" font-size="9.78" fill="#fff" stroke="#fff" stroke-width="0.25" textLength="32.04" lengthAdjust="spacingAndGlyphs">0.91720</text>
<text x="1601.08" y="518.00" font-size="9.78" fill="#fff" stroke="#fff" stroke-width="0.25" textLength="32.04" lengthAdjust="spacingAndGlyphs">0.90026</text>
<text x="1601.08" y="502.00" font-size="9.78" fill="#fff" stroke="#fff" stroke-width="0.25" textLength="32.04" lengthAdjust="spacingAndGlyphs">0.90381</text>
</svg>
</body></html>
